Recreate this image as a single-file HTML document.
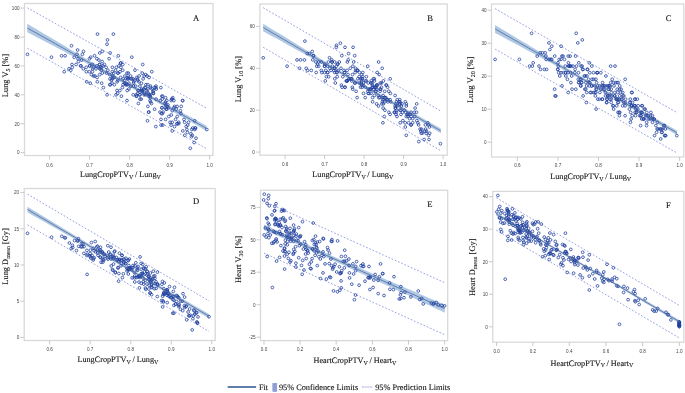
<!DOCTYPE html>
<html><head><meta charset="utf-8"><title>Figure</title>
<style>html,body{margin:0;padding:0;background:#fff}svg{display:block}.s text,text.s{text-rendering:geometricPrecision}</style></head>
<body>
<svg width="685" height="393" viewBox="0 0 685 393">
<rect width="685" height="393" fill="#fff"/>
<g>
<rect x="24.5" y="3.5" width="188.5" height="152" fill="#fff" stroke="#d8d8d8" stroke-width="1.25"/>
<polygon points="27.3,23.8 31.8,26.5 36.3,29.1 40.7,31.8 45.2,34.5 49.7,37.1 54.2,39.8 58.7,42.5 63.2,45.1 67.6,47.8 72.1,50.4 76.6,53.1 81.1,55.7 85.6,58.4 90.1,61 94.5,63.6 99,66.2 103.5,68.8 108,71.4 112.5,74 116.9,76.6 121.4,79.1 125.9,81.6 130.4,84.1 134.9,86.6 139.4,89.1 143.8,91.6 148.3,94.1 152.8,96.5 157.3,99 161.8,101.5 166.3,103.9 170.7,106.4 175.2,108.8 179.7,111.2 184.2,113.7 188.7,116.1 193.2,118.5 197.6,121 202.1,123.4 206.6,125.8 206.6,131 202.1,128.4 197.6,125.8 193.2,123.2 188.7,120.6 184.2,118 179.7,115.4 175.2,112.9 170.7,110.3 166.3,107.7 161.8,105.1 157.3,102.6 152.8,100 148.3,97.5 143.8,94.9 139.4,92.4 134.9,89.9 130.4,87.3 125.9,84.8 121.4,82.3 116.9,79.8 112.5,77.4 108,74.9 103.5,72.5 99,70.1 94.5,67.7 90.1,65.3 85.6,62.9 81.1,60.5 76.6,58.1 72.1,55.8 67.6,53.4 63.2,51 58.7,48.7 54.2,46.3 49.7,44 45.2,41.6 40.7,39.2 36.3,36.9 31.8,34.5 27.3,32.2" fill="#a6c2e3" fill-opacity="0.9"/>
<line x1="27.3" y1="7.8" x2="206.6" y2="108.2" stroke="#8a95dc" stroke-width="0.9" stroke-dasharray="1.7 1.8"/>
<line x1="27.3" y1="48.2" x2="206.6" y2="148.6" stroke="#8a95dc" stroke-width="0.9" stroke-dasharray="1.7 1.8"/>
<g fill="none" stroke="#1f3f9f" stroke-width="0.85" stroke-opacity="0.92"><circle cx="27.5" cy="54.3" r="1.38"/><circle cx="51.5" cy="57.2" r="1.38"/><circle cx="206.8" cy="129.5" r="1.38"/><circle cx="96" cy="68.8" r="1.38"/><circle cx="152.9" cy="91.9" r="1.38"/><circle cx="192.3" cy="135.3" r="1.38"/><circle cx="171.2" cy="115" r="1.38"/><circle cx="112.2" cy="78.9" r="1.38"/><circle cx="141.5" cy="83.2" r="1.38"/><circle cx="99.7" cy="74.6" r="1.38"/><circle cx="103.4" cy="87.6" r="1.38"/><circle cx="172.8" cy="97.7" r="1.38"/><circle cx="165.8" cy="104.9" r="1.38"/><circle cx="147.9" cy="106.4" r="1.38"/><circle cx="194.7" cy="120.8" r="1.38"/><circle cx="142.3" cy="91.9" r="1.38"/><circle cx="165.6" cy="97.7" r="1.38"/><circle cx="154.6" cy="109.2" r="1.38"/><circle cx="171.1" cy="125.1" r="1.38"/><circle cx="150.2" cy="96.2" r="1.38"/><circle cx="77.6" cy="50" r="1.38"/><circle cx="130.6" cy="76" r="1.38"/><circle cx="141.6" cy="89" r="1.38"/><circle cx="194.8" cy="129.5" r="1.38"/><circle cx="161" cy="119.4" r="1.38"/><circle cx="177.1" cy="106.4" r="1.38"/><circle cx="174.5" cy="126.6" r="1.38"/><circle cx="148" cy="89" r="1.38"/><circle cx="70.8" cy="70.2" r="1.38"/><circle cx="92.6" cy="68.8" r="1.38"/><circle cx="120" cy="71.7" r="1.38"/><circle cx="137.5" cy="78.9" r="1.38"/><circle cx="137.8" cy="93.4" r="1.38"/><circle cx="128.9" cy="83.2" r="1.38"/><circle cx="117.8" cy="80.3" r="1.38"/><circle cx="148.5" cy="93.4" r="1.38"/><circle cx="160.9" cy="87.6" r="1.38"/><circle cx="125.9" cy="83.2" r="1.38"/><circle cx="142.1" cy="90.5" r="1.38"/><circle cx="128.4" cy="73.1" r="1.38"/><circle cx="112.6" cy="76" r="1.38"/><circle cx="166.1" cy="109.2" r="1.38"/><circle cx="92.5" cy="64.5" r="1.38"/><circle cx="119.9" cy="90.5" r="1.38"/><circle cx="191.8" cy="129.5" r="1.38"/><circle cx="178.7" cy="123.7" r="1.38"/><circle cx="96.8" cy="65.9" r="1.38"/><circle cx="165.6" cy="119.4" r="1.38"/><circle cx="141.2" cy="99.1" r="1.38"/><circle cx="99.8" cy="52.9" r="1.38"/><circle cx="90.2" cy="83.2" r="1.38"/><circle cx="160.3" cy="100.6" r="1.38"/><circle cx="131.8" cy="57.2" r="1.38"/><circle cx="127" cy="73.1" r="1.38"/><circle cx="172.2" cy="122.3" r="1.38"/><circle cx="160" cy="112.1" r="1.38"/><circle cx="123" cy="84.7" r="1.38"/><circle cx="107.9" cy="70.2" r="1.38"/><circle cx="138.2" cy="90.5" r="1.38"/><circle cx="102.3" cy="51.4" r="1.38"/><circle cx="173.9" cy="100.6" r="1.38"/><circle cx="61.6" cy="55.8" r="1.38"/><circle cx="178.7" cy="122.3" r="1.38"/><circle cx="145.6" cy="94.8" r="1.38"/><circle cx="81.6" cy="60.1" r="1.38"/><circle cx="139.9" cy="94.8" r="1.38"/><circle cx="176.2" cy="109.2" r="1.38"/><circle cx="167.2" cy="106.4" r="1.38"/><circle cx="116" cy="94.8" r="1.38"/><circle cx="89.8" cy="65.9" r="1.38"/><circle cx="106.5" cy="73.1" r="1.38"/><circle cx="121.4" cy="96.2" r="1.38"/><circle cx="133.6" cy="86.1" r="1.38"/><circle cx="122.4" cy="87.6" r="1.38"/><circle cx="164.9" cy="103.5" r="1.38"/><circle cx="186.2" cy="126.6" r="1.38"/><circle cx="101.3" cy="70.2" r="1.38"/><circle cx="127.2" cy="90.5" r="1.38"/><circle cx="190.3" cy="148.3" r="1.38"/><circle cx="149" cy="77.5" r="1.38"/><circle cx="171.6" cy="99.1" r="1.38"/><circle cx="195.2" cy="128" r="1.38"/><circle cx="140" cy="99.1" r="1.38"/><circle cx="161.8" cy="107.8" r="1.38"/><circle cx="109.6" cy="74.6" r="1.38"/><circle cx="171.2" cy="100.6" r="1.38"/><circle cx="163.1" cy="112.1" r="1.38"/><circle cx="133.8" cy="81.8" r="1.38"/><circle cx="107.1" cy="94.8" r="1.38"/><circle cx="113.4" cy="34.1" r="1.38"/><circle cx="69" cy="68.8" r="1.38"/><circle cx="172.2" cy="110.7" r="1.38"/><circle cx="133.5" cy="83.2" r="1.38"/><circle cx="156.1" cy="99.1" r="1.38"/><circle cx="154.5" cy="87.6" r="1.38"/><circle cx="124.6" cy="83.2" r="1.38"/><circle cx="167.9" cy="104.9" r="1.38"/><circle cx="150.3" cy="97.7" r="1.38"/><circle cx="136.8" cy="77.5" r="1.38"/><circle cx="78" cy="58.7" r="1.38"/><circle cx="196" cy="138.2" r="1.38"/><circle cx="117.1" cy="81.8" r="1.38"/><circle cx="151.5" cy="103.5" r="1.38"/><circle cx="76.1" cy="64.5" r="1.38"/><circle cx="91.4" cy="74.6" r="1.38"/><circle cx="93.4" cy="67.3" r="1.38"/><circle cx="127.6" cy="84.7" r="1.38"/><circle cx="127" cy="100.6" r="1.38"/><circle cx="99.5" cy="64.5" r="1.38"/><circle cx="115.5" cy="70.2" r="1.38"/><circle cx="142.1" cy="90.5" r="1.38"/><circle cx="149.2" cy="94.8" r="1.38"/><circle cx="165.5" cy="102" r="1.38"/><circle cx="150.6" cy="102" r="1.38"/><circle cx="103.1" cy="65.9" r="1.38"/><circle cx="190.9" cy="133.8" r="1.38"/><circle cx="175.6" cy="119.4" r="1.38"/><circle cx="133.1" cy="78.9" r="1.38"/><circle cx="191.5" cy="136.7" r="1.38"/><circle cx="124.6" cy="80.3" r="1.38"/><circle cx="148.8" cy="112.1" r="1.38"/><circle cx="186.9" cy="129.5" r="1.38"/><circle cx="111.5" cy="80.3" r="1.38"/><circle cx="92.5" cy="71.7" r="1.38"/><circle cx="98.9" cy="60.1" r="1.38"/><circle cx="139.1" cy="76" r="1.38"/><circle cx="141" cy="90.5" r="1.38"/><circle cx="166.7" cy="109.2" r="1.38"/><circle cx="99.8" cy="68.8" r="1.38"/><circle cx="89.6" cy="65.9" r="1.38"/><circle cx="118.3" cy="55.8" r="1.38"/><circle cx="72" cy="64.5" r="1.38"/><circle cx="151.8" cy="71.7" r="1.38"/><circle cx="162.1" cy="107.8" r="1.38"/><circle cx="168.3" cy="107.8" r="1.38"/><circle cx="122.8" cy="64.5" r="1.38"/><circle cx="182.8" cy="130.9" r="1.38"/><circle cx="168.8" cy="116.5" r="1.38"/><circle cx="146.4" cy="90.5" r="1.38"/><circle cx="145.7" cy="74.6" r="1.38"/><circle cx="96.9" cy="58.7" r="1.38"/><circle cx="147.8" cy="84.7" r="1.38"/><circle cx="82.4" cy="54.3" r="1.38"/><circle cx="133.2" cy="94.8" r="1.38"/><circle cx="162.2" cy="99.1" r="1.38"/><circle cx="136.5" cy="96.2" r="1.38"/><circle cx="138.9" cy="81.8" r="1.38"/><circle cx="81" cy="65.9" r="1.38"/><circle cx="83.3" cy="68.8" r="1.38"/><circle cx="127.7" cy="78.9" r="1.38"/><circle cx="150" cy="94.8" r="1.38"/><circle cx="128.9" cy="89" r="1.38"/><circle cx="97.1" cy="77.5" r="1.38"/><circle cx="177.2" cy="116.5" r="1.38"/><circle cx="180.4" cy="110.7" r="1.38"/><circle cx="180.9" cy="113.6" r="1.38"/><circle cx="116.4" cy="67.3" r="1.38"/><circle cx="150" cy="100.6" r="1.38"/><circle cx="102.3" cy="73.1" r="1.38"/><circle cx="148.6" cy="112.1" r="1.38"/><circle cx="107" cy="44.2" r="1.38"/><circle cx="135.7" cy="86.1" r="1.38"/><circle cx="101.6" cy="83.2" r="1.38"/><circle cx="135" cy="70.2" r="1.38"/><circle cx="139.8" cy="94.8" r="1.38"/><circle cx="120.9" cy="63" r="1.38"/><circle cx="142.7" cy="64.5" r="1.38"/><circle cx="136.4" cy="96.2" r="1.38"/><circle cx="155.8" cy="126.6" r="1.38"/><circle cx="162.8" cy="125.1" r="1.38"/><circle cx="144.8" cy="87.6" r="1.38"/><circle cx="74.2" cy="57.2" r="1.38"/><circle cx="127.1" cy="77.5" r="1.38"/><circle cx="148.6" cy="96.2" r="1.38"/><circle cx="139.9" cy="86.1" r="1.38"/><circle cx="109.1" cy="58.7" r="1.38"/><circle cx="138.1" cy="90.5" r="1.38"/><circle cx="138.4" cy="103.5" r="1.38"/><circle cx="172.3" cy="99.1" r="1.38"/><circle cx="124.9" cy="76" r="1.38"/><circle cx="152.1" cy="89" r="1.38"/><circle cx="153.5" cy="90.5" r="1.38"/><circle cx="155.9" cy="86.1" r="1.38"/><circle cx="72.3" cy="67.3" r="1.38"/><circle cx="184.6" cy="122.3" r="1.38"/><circle cx="120.6" cy="77.5" r="1.38"/><circle cx="172.2" cy="130.9" r="1.38"/><circle cx="117" cy="90.5" r="1.38"/><circle cx="184" cy="119.4" r="1.38"/><circle cx="97.3" cy="81.8" r="1.38"/><circle cx="161.1" cy="125.1" r="1.38"/><circle cx="83.5" cy="51.4" r="1.38"/><circle cx="194.1" cy="142.5" r="1.38"/><circle cx="102.1" cy="61.6" r="1.38"/><circle cx="181.2" cy="106.4" r="1.38"/><circle cx="86.2" cy="67.3" r="1.38"/><circle cx="94.5" cy="55.8" r="1.38"/><circle cx="153.4" cy="93.4" r="1.38"/><circle cx="147.1" cy="91.9" r="1.38"/><circle cx="90.7" cy="57.2" r="1.38"/><circle cx="136.2" cy="94.8" r="1.38"/><circle cx="125.8" cy="84.7" r="1.38"/><circle cx="155.8" cy="87.6" r="1.38"/><circle cx="64.2" cy="71.7" r="1.38"/><circle cx="182.7" cy="100.6" r="1.38"/><circle cx="153.3" cy="93.4" r="1.38"/><circle cx="130.8" cy="78.9" r="1.38"/><circle cx="131.8" cy="78.9" r="1.38"/><circle cx="80.6" cy="65.9" r="1.38"/><circle cx="120.5" cy="63" r="1.38"/><circle cx="162.7" cy="96.2" r="1.38"/><circle cx="117.9" cy="73.1" r="1.38"/><circle cx="161.4" cy="113.6" r="1.38"/><circle cx="128.1" cy="77.5" r="1.38"/><circle cx="93.5" cy="76" r="1.38"/><circle cx="110.3" cy="84.7" r="1.38"/><circle cx="182.6" cy="100.6" r="1.38"/><circle cx="170.1" cy="122.3" r="1.38"/><circle cx="86.7" cy="81.8" r="1.38"/><circle cx="110" cy="78.9" r="1.38"/><circle cx="112" cy="83.2" r="1.38"/><circle cx="150.4" cy="87.6" r="1.38"/><circle cx="120.9" cy="67.3" r="1.38"/><circle cx="166.8" cy="100.6" r="1.38"/><circle cx="99.7" cy="64.5" r="1.38"/><circle cx="114.3" cy="77.5" r="1.38"/><circle cx="122.7" cy="70.2" r="1.38"/><circle cx="118.1" cy="73.1" r="1.38"/><circle cx="118.9" cy="65.9" r="1.38"/><circle cx="156.3" cy="89" r="1.38"/><circle cx="128.2" cy="78.9" r="1.38"/><circle cx="65.1" cy="55.8" r="1.38"/><circle cx="94.9" cy="76" r="1.38"/><circle cx="187.4" cy="132.4" r="1.38"/><circle cx="89.3" cy="71.7" r="1.38"/><circle cx="134.6" cy="80.3" r="1.38"/><circle cx="145.4" cy="87.6" r="1.38"/><circle cx="161.8" cy="96.2" r="1.38"/><circle cx="174.6" cy="106.4" r="1.38"/><circle cx="162.3" cy="113.6" r="1.38"/><circle cx="142.2" cy="73.1" r="1.38"/><circle cx="144.4" cy="93.4" r="1.38"/><circle cx="89.5" cy="58.7" r="1.38"/><circle cx="165.5" cy="107.8" r="1.38"/><circle cx="195.6" cy="128" r="1.38"/><circle cx="101.5" cy="67.3" r="1.38"/><circle cx="187.7" cy="125.1" r="1.38"/><circle cx="150.5" cy="86.1" r="1.38"/><circle cx="177.2" cy="123.7" r="1.38"/><circle cx="106.1" cy="67.3" r="1.38"/><circle cx="145.9" cy="84.7" r="1.38"/><circle cx="192.7" cy="128" r="1.38"/><circle cx="110.1" cy="52.9" r="1.38"/><circle cx="78.4" cy="61.6" r="1.38"/><circle cx="126.4" cy="84.7" r="1.38"/><circle cx="130.9" cy="86.1" r="1.38"/><circle cx="144.2" cy="76" r="1.38"/><circle cx="77" cy="54.3" r="1.38"/><circle cx="177" cy="123.7" r="1.38"/><circle cx="113.2" cy="77.5" r="1.38"/><circle cx="137.8" cy="80.3" r="1.38"/><circle cx="147.5" cy="120.8" r="1.38"/><circle cx="117.6" cy="93.4" r="1.38"/><circle cx="144.1" cy="94.8" r="1.38"/><circle cx="109.8" cy="84.7" r="1.38"/><circle cx="173.9" cy="107.8" r="1.38"/><circle cx="143.9" cy="89" r="1.38"/><circle cx="147.1" cy="76" r="1.38"/><circle cx="113.8" cy="73.1" r="1.38"/><circle cx="112.4" cy="67.3" r="1.38"/><circle cx="112.3" cy="71.7" r="1.38"/><circle cx="123.2" cy="78.9" r="1.38"/><circle cx="188.5" cy="122.3" r="1.38"/><circle cx="184.8" cy="135.3" r="1.38"/><circle cx="143.1" cy="78.9" r="1.38"/><circle cx="86.3" cy="71.7" r="1.38"/><circle cx="104.4" cy="64.5" r="1.38"/><circle cx="100.4" cy="67.3" r="1.38"/><circle cx="114.3" cy="84.7" r="1.38"/><circle cx="97.5" cy="34.1" r="1.38"/><circle cx="107.5" cy="39.9" r="1.38"/><circle cx="71.5" cy="45.7" r="1.38"/></g>
<line x1="27.3" y1="28" x2="206.6" y2="128.4" stroke="#526a93" stroke-width="1.0" stroke-opacity="0.8"/>
<g stroke="#c0c0c0" stroke-width="0.85"><line x1="49.5" y1="155.5" x2="49.5" y2="159.4"/><line x1="89.5" y1="155.5" x2="89.5" y2="159.4"/><line x1="129.6" y1="155.5" x2="129.6" y2="159.4"/><line x1="169.6" y1="155.5" x2="169.6" y2="159.4"/><line x1="209.6" y1="155.5" x2="209.6" y2="159.4"/><line x1="20.6" y1="152.6" x2="24.5" y2="152.6"/><line x1="20.6" y1="123.7" x2="24.5" y2="123.7"/><line x1="20.6" y1="94.8" x2="24.5" y2="94.8"/><line x1="20.6" y1="65.9" x2="24.5" y2="65.9"/><line x1="20.6" y1="37.1" x2="24.5" y2="37.1"/><line x1="20.6" y1="8.1" x2="24.5" y2="8.1"/></g>
<g font-family="Liberation Sans, sans-serif" font-size="4.6" fill="#444"><text x="49.5" y="166.6" text-anchor="middle">0.6</text><text x="89.5" y="166.6" text-anchor="middle">0.7</text><text x="129.6" y="166.6" text-anchor="middle">0.8</text><text x="169.6" y="166.6" text-anchor="middle">0.9</text><text x="209.6" y="166.6" text-anchor="middle">1.0</text><text x="19.5" y="154.4" text-anchor="end">0</text><text x="19.5" y="125.5" text-anchor="end">20</text><text x="19.5" y="96.6" text-anchor="end">40</text><text x="19.5" y="67.7" text-anchor="end">60</text><text x="19.5" y="38.9" text-anchor="end">80</text><text x="19.5" y="9.9" text-anchor="end">100</text></g>
<text class="s" x="196" y="21.2" text-anchor="middle" font-family="Liberation Serif, serif" font-size="8.6" fill="#111" stroke="#111" stroke-width="0.1">A</text>
<text class="s" transform="translate(8.3,75.5) rotate(-90)" text-anchor="middle" font-family="Liberation Serif, serif" font-size="8.4" fill="#111" stroke="#111" stroke-width="0.1">Lung V<tspan font-size="5.9" dy="1.7">5</tspan><tspan dy="-1.7"> [%]</tspan></text>
<text class="s" x="120.4" y="177.4" text-anchor="middle" font-family="Liberation Serif, serif" font-size="8.2" fill="#111" stroke="#111" stroke-width="0.1">LungCropPTV<tspan font-size="6" dy="1.7">V</tspan><tspan dy="-1.7" dx="-0.5"> / Lung</tspan><tspan font-size="6" dy="1.7">V</tspan></text>
</g>
<g>
<rect x="259.9" y="4" width="187.3" height="151.2" fill="#fff" stroke="#d8d8d8" stroke-width="1.25"/>
<polygon points="263.2,23.7 267.6,26.4 272.1,29.2 276.5,31.9 281,34.6 285.4,37.3 289.8,40.1 294.3,42.8 298.7,45.5 303.2,48.2 307.6,50.9 312,53.6 316.5,56.3 320.9,59 325.4,61.7 329.8,64.4 334.2,67.1 338.7,69.7 343.1,72.4 347.6,75 352,77.7 356.4,80.3 360.9,82.9 365.3,85.5 369.8,88 374.2,90.6 378.6,93.2 383.1,95.7 387.5,98.3 392,100.8 396.4,103.3 400.8,105.9 405.3,108.4 409.7,110.9 414.2,113.4 418.6,116 423,118.5 427.5,121 431.9,123.5 436.4,126 440.8,128.5 440.8,133.3 436.4,130.6 431.9,128 427.5,125.3 423,122.7 418.6,120 414.2,117.3 409.7,114.7 405.3,112 400.8,109.4 396.4,106.8 392,104.1 387.5,101.5 383.1,98.9 378.6,96.3 374.2,93.7 369.8,91.1 365.3,88.5 360.9,85.9 356.4,83.3 352,80.7 347.6,78.2 343.1,75.7 338.7,73.1 334.2,70.6 329.8,68.1 325.4,65.7 320.9,63.2 316.5,60.7 312,58.2 307.6,55.8 303.2,53.3 298.7,50.9 294.3,48.4 289.8,46 285.4,43.5 281,41.1 276.5,38.6 272.1,36.2 267.6,33.7 263.2,31.3" fill="#a6c2e3" fill-opacity="0.9"/>
<line x1="263.2" y1="7.7" x2="440.8" y2="111.1" stroke="#8a95dc" stroke-width="0.9" stroke-dasharray="1.7 1.8"/>
<line x1="263.2" y1="47.3" x2="440.8" y2="150.7" stroke="#8a95dc" stroke-width="0.9" stroke-dasharray="1.7 1.8"/>
<g fill="none" stroke="#1f3f9f" stroke-width="0.85" stroke-opacity="0.92"><circle cx="263.2" cy="57.8" r="1.38"/><circle cx="287.1" cy="66.2" r="1.38"/><circle cx="440.4" cy="143.7" r="1.38"/><circle cx="331" cy="70.4" r="1.38"/><circle cx="387.2" cy="99.7" r="1.38"/><circle cx="426.1" cy="133.2" r="1.38"/><circle cx="405.3" cy="127" r="1.38"/><circle cx="347" cy="80.9" r="1.38"/><circle cx="375.9" cy="87.2" r="1.38"/><circle cx="334.7" cy="72.5" r="1.38"/><circle cx="338.3" cy="70.4" r="1.38"/><circle cx="406.9" cy="114.4" r="1.38"/><circle cx="400" cy="101.8" r="1.38"/><circle cx="382.2" cy="97.6" r="1.38"/><circle cx="428.5" cy="124.9" r="1.38"/><circle cx="376.7" cy="85.1" r="1.38"/><circle cx="399.8" cy="103.9" r="1.38"/><circle cx="388.9" cy="112.3" r="1.38"/><circle cx="405.2" cy="122.8" r="1.38"/><circle cx="384.5" cy="101.8" r="1.38"/><circle cx="312.8" cy="59.9" r="1.38"/><circle cx="365.2" cy="97.6" r="1.38"/><circle cx="376.1" cy="91.3" r="1.38"/><circle cx="428.6" cy="135.3" r="1.38"/><circle cx="395.2" cy="106" r="1.38"/><circle cx="411.1" cy="112.3" r="1.38"/><circle cx="408.6" cy="122.8" r="1.38"/><circle cx="382.4" cy="101.8" r="1.38"/><circle cx="306.2" cy="68.3" r="1.38"/><circle cx="327.7" cy="72.5" r="1.38"/><circle cx="354.7" cy="55.7" r="1.38"/><circle cx="372" cy="83" r="1.38"/><circle cx="372.3" cy="87.2" r="1.38"/><circle cx="363.5" cy="83" r="1.38"/><circle cx="352.5" cy="74.6" r="1.38"/><circle cx="382.9" cy="99.7" r="1.38"/><circle cx="395.1" cy="95.5" r="1.38"/><circle cx="360.5" cy="87.2" r="1.38"/><circle cx="376.6" cy="103.9" r="1.38"/><circle cx="363.1" cy="85.1" r="1.38"/><circle cx="347.4" cy="62" r="1.38"/><circle cx="400.2" cy="122.8" r="1.38"/><circle cx="327.6" cy="72.5" r="1.38"/><circle cx="354.6" cy="83" r="1.38"/><circle cx="425.6" cy="129.1" r="1.38"/><circle cx="412.7" cy="118.6" r="1.38"/><circle cx="331.8" cy="59.9" r="1.38"/><circle cx="399.8" cy="110.2" r="1.38"/><circle cx="375.6" cy="91.3" r="1.38"/><circle cx="334.8" cy="68.3" r="1.38"/><circle cx="325.3" cy="80.9" r="1.38"/><circle cx="394.6" cy="112.3" r="1.38"/><circle cx="366.4" cy="76.7" r="1.38"/><circle cx="361.7" cy="80.9" r="1.38"/><circle cx="406.3" cy="116.5" r="1.38"/><circle cx="394.3" cy="112.3" r="1.38"/><circle cx="357.7" cy="70.4" r="1.38"/><circle cx="342.8" cy="76.7" r="1.38"/><circle cx="372.6" cy="97.6" r="1.38"/><circle cx="337.3" cy="64.1" r="1.38"/><circle cx="407.9" cy="114.4" r="1.38"/><circle cx="297" cy="59.9" r="1.38"/><circle cx="412.7" cy="122.8" r="1.38"/><circle cx="380" cy="89.2" r="1.38"/><circle cx="316.8" cy="66.2" r="1.38"/><circle cx="374.3" cy="87.2" r="1.38"/><circle cx="410.2" cy="114.4" r="1.38"/><circle cx="401.4" cy="106" r="1.38"/><circle cx="350.8" cy="78.8" r="1.38"/><circle cx="324.9" cy="64.1" r="1.38"/><circle cx="341.4" cy="85.1" r="1.38"/><circle cx="356.1" cy="91.3" r="1.38"/><circle cx="368.2" cy="83" r="1.38"/><circle cx="357.1" cy="97.6" r="1.38"/><circle cx="399.1" cy="101.8" r="1.38"/><circle cx="420.1" cy="129.1" r="1.38"/><circle cx="336.3" cy="47.3" r="1.38"/><circle cx="361.9" cy="78.8" r="1.38"/><circle cx="424.1" cy="139.5" r="1.38"/><circle cx="383.4" cy="80.9" r="1.38"/><circle cx="405.7" cy="112.3" r="1.38"/><circle cx="429" cy="139.5" r="1.38"/><circle cx="374.4" cy="95.5" r="1.38"/><circle cx="396" cy="114.4" r="1.38"/><circle cx="344.5" cy="72.5" r="1.38"/><circle cx="405.3" cy="101.8" r="1.38"/><circle cx="397.3" cy="99.7" r="1.38"/><circle cx="368.4" cy="89.2" r="1.38"/><circle cx="342" cy="87.2" r="1.38"/><circle cx="348.2" cy="59.9" r="1.38"/><circle cx="304.4" cy="59.9" r="1.38"/><circle cx="406.3" cy="103.9" r="1.38"/><circle cx="368.1" cy="93.4" r="1.38"/><circle cx="390.4" cy="93.4" r="1.38"/><circle cx="388.8" cy="91.3" r="1.38"/><circle cx="359.3" cy="83" r="1.38"/><circle cx="402" cy="103.9" r="1.38"/><circle cx="384.7" cy="91.3" r="1.38"/><circle cx="371.3" cy="80.9" r="1.38"/><circle cx="313.2" cy="55.7" r="1.38"/><circle cx="429.7" cy="133.2" r="1.38"/><circle cx="351.8" cy="78.8" r="1.38"/><circle cx="385.8" cy="97.6" r="1.38"/><circle cx="311.3" cy="70.4" r="1.38"/><circle cx="326.4" cy="76.7" r="1.38"/><circle cx="328.4" cy="62" r="1.38"/><circle cx="362.3" cy="87.2" r="1.38"/><circle cx="361.6" cy="85.1" r="1.38"/><circle cx="334.4" cy="68.3" r="1.38"/><circle cx="350.3" cy="68.3" r="1.38"/><circle cx="376.6" cy="89.2" r="1.38"/><circle cx="383.5" cy="103.9" r="1.38"/><circle cx="399.7" cy="99.7" r="1.38"/><circle cx="384.9" cy="110.2" r="1.38"/><circle cx="338" cy="64.1" r="1.38"/><circle cx="424.8" cy="131.1" r="1.38"/><circle cx="409.6" cy="118.6" r="1.38"/><circle cx="367.7" cy="66.2" r="1.38"/><circle cx="425.4" cy="124.9" r="1.38"/><circle cx="359.2" cy="76.7" r="1.38"/><circle cx="383.1" cy="108.1" r="1.38"/><circle cx="420.8" cy="131.1" r="1.38"/><circle cx="346.3" cy="80.9" r="1.38"/><circle cx="327.6" cy="66.2" r="1.38"/><circle cx="333.8" cy="70.4" r="1.38"/><circle cx="373.6" cy="89.2" r="1.38"/><circle cx="375.5" cy="87.2" r="1.38"/><circle cx="400.8" cy="110.2" r="1.38"/><circle cx="334.8" cy="78.8" r="1.38"/><circle cx="324.7" cy="66.2" r="1.38"/><circle cx="353.1" cy="47.3" r="1.38"/><circle cx="307.3" cy="53.6" r="1.38"/><circle cx="386.1" cy="85.1" r="1.38"/><circle cx="396.3" cy="112.3" r="1.38"/><circle cx="402.5" cy="112.3" r="1.38"/><circle cx="357.5" cy="70.4" r="1.38"/><circle cx="416.8" cy="120.7" r="1.38"/><circle cx="402.9" cy="120.7" r="1.38"/><circle cx="380.8" cy="89.2" r="1.38"/><circle cx="380.1" cy="91.3" r="1.38"/><circle cx="331.9" cy="62" r="1.38"/><circle cx="382.2" cy="68.3" r="1.38"/><circle cx="317.6" cy="64.1" r="1.38"/><circle cx="367.8" cy="91.3" r="1.38"/><circle cx="396.4" cy="101.8" r="1.38"/><circle cx="371" cy="93.4" r="1.38"/><circle cx="373.4" cy="78.8" r="1.38"/><circle cx="316.2" cy="72.5" r="1.38"/><circle cx="318.5" cy="62" r="1.38"/><circle cx="362.4" cy="78.8" r="1.38"/><circle cx="384.3" cy="99.7" r="1.38"/><circle cx="363.5" cy="93.4" r="1.38"/><circle cx="332.1" cy="62" r="1.38"/><circle cx="411.2" cy="116.5" r="1.38"/><circle cx="414.3" cy="112.3" r="1.38"/><circle cx="414.8" cy="116.5" r="1.38"/><circle cx="351.2" cy="78.8" r="1.38"/><circle cx="384.3" cy="116.5" r="1.38"/><circle cx="337.2" cy="76.7" r="1.38"/><circle cx="383" cy="95.5" r="1.38"/><circle cx="341.8" cy="55.7" r="1.38"/><circle cx="370.2" cy="89.2" r="1.38"/><circle cx="336.6" cy="72.5" r="1.38"/><circle cx="369.5" cy="89.2" r="1.38"/><circle cx="374.3" cy="78.8" r="1.38"/><circle cx="355.6" cy="70.4" r="1.38"/><circle cx="377.2" cy="72.5" r="1.38"/><circle cx="370.9" cy="83" r="1.38"/><circle cx="390.1" cy="114.4" r="1.38"/><circle cx="397" cy="116.5" r="1.38"/><circle cx="379.2" cy="74.6" r="1.38"/><circle cx="309.5" cy="53.6" r="1.38"/><circle cx="361.7" cy="74.6" r="1.38"/><circle cx="382.9" cy="122.8" r="1.38"/><circle cx="374.4" cy="80.9" r="1.38"/><circle cx="344" cy="70.4" r="1.38"/><circle cx="372.6" cy="101.8" r="1.38"/><circle cx="372.9" cy="87.2" r="1.38"/><circle cx="406.3" cy="106" r="1.38"/><circle cx="359.5" cy="72.5" r="1.38"/><circle cx="386.5" cy="85.1" r="1.38"/><circle cx="387.8" cy="101.8" r="1.38"/><circle cx="390.2" cy="78.8" r="1.38"/><circle cx="307.6" cy="70.4" r="1.38"/><circle cx="418.6" cy="124.9" r="1.38"/><circle cx="355.3" cy="83" r="1.38"/><circle cx="406.3" cy="135.3" r="1.38"/><circle cx="351.7" cy="80.9" r="1.38"/><circle cx="417.9" cy="122.8" r="1.38"/><circle cx="332.3" cy="66.2" r="1.38"/><circle cx="395.3" cy="108.1" r="1.38"/><circle cx="318.7" cy="66.2" r="1.38"/><circle cx="427.8" cy="122.8" r="1.38"/><circle cx="337.1" cy="72.5" r="1.38"/><circle cx="415.1" cy="108.1" r="1.38"/><circle cx="321.3" cy="70.4" r="1.38"/><circle cx="329.5" cy="57.8" r="1.38"/><circle cx="387.7" cy="99.7" r="1.38"/><circle cx="381.5" cy="87.2" r="1.38"/><circle cx="325.8" cy="70.4" r="1.38"/><circle cx="370.7" cy="89.2" r="1.38"/><circle cx="360.4" cy="78.8" r="1.38"/><circle cx="390.1" cy="99.7" r="1.38"/><circle cx="299.6" cy="68.3" r="1.38"/><circle cx="416.7" cy="103.9" r="1.38"/><circle cx="387.6" cy="87.2" r="1.38"/><circle cx="365.4" cy="80.9" r="1.38"/><circle cx="366.4" cy="80.9" r="1.38"/><circle cx="315.9" cy="62" r="1.38"/><circle cx="355.2" cy="72.5" r="1.38"/><circle cx="396.9" cy="106" r="1.38"/><circle cx="352.7" cy="89.2" r="1.38"/><circle cx="395.6" cy="108.1" r="1.38"/><circle cx="362.7" cy="76.7" r="1.38"/><circle cx="328.6" cy="76.7" r="1.38"/><circle cx="345.1" cy="87.2" r="1.38"/><circle cx="416.5" cy="112.3" r="1.38"/><circle cx="404.2" cy="110.2" r="1.38"/><circle cx="321.8" cy="72.5" r="1.38"/><circle cx="344.9" cy="87.2" r="1.38"/><circle cx="346.8" cy="80.9" r="1.38"/><circle cx="384.7" cy="97.6" r="1.38"/><circle cx="355.6" cy="68.3" r="1.38"/><circle cx="401" cy="114.4" r="1.38"/><circle cx="334.7" cy="62" r="1.38"/><circle cx="349.1" cy="78.8" r="1.38"/><circle cx="357.4" cy="70.4" r="1.38"/><circle cx="352.9" cy="66.2" r="1.38"/><circle cx="353.6" cy="62" r="1.38"/><circle cx="390.6" cy="101.8" r="1.38"/><circle cx="362.8" cy="72.5" r="1.38"/><circle cx="300.5" cy="59.9" r="1.38"/><circle cx="329.9" cy="68.3" r="1.38"/><circle cx="421.3" cy="133.2" r="1.38"/><circle cx="324.5" cy="66.2" r="1.38"/><circle cx="369.1" cy="93.4" r="1.38"/><circle cx="379.8" cy="97.6" r="1.38"/><circle cx="396" cy="103.9" r="1.38"/><circle cx="408.7" cy="114.4" r="1.38"/><circle cx="396.5" cy="110.2" r="1.38"/><circle cx="376.6" cy="85.1" r="1.38"/><circle cx="378.8" cy="97.6" r="1.38"/><circle cx="324.6" cy="72.5" r="1.38"/><circle cx="399.7" cy="103.9" r="1.38"/><circle cx="429.4" cy="127" r="1.38"/><circle cx="336.4" cy="66.2" r="1.38"/><circle cx="421.6" cy="129.1" r="1.38"/><circle cx="384.8" cy="97.6" r="1.38"/><circle cx="411.2" cy="124.9" r="1.38"/><circle cx="341" cy="68.3" r="1.38"/><circle cx="380.3" cy="83" r="1.38"/><circle cx="426.5" cy="131.1" r="1.38"/><circle cx="345" cy="47.3" r="1.38"/><circle cx="313.6" cy="55.7" r="1.38"/><circle cx="361.1" cy="83" r="1.38"/><circle cx="365.5" cy="87.2" r="1.38"/><circle cx="378.6" cy="62" r="1.38"/><circle cx="312.2" cy="51.5" r="1.38"/><circle cx="411" cy="124.9" r="1.38"/><circle cx="348" cy="74.6" r="1.38"/><circle cx="372.3" cy="85.1" r="1.38"/><circle cx="381.9" cy="103.9" r="1.38"/><circle cx="352.3" cy="87.2" r="1.38"/><circle cx="378.5" cy="106" r="1.38"/><circle cx="344.7" cy="72.5" r="1.38"/><circle cx="407.9" cy="116.5" r="1.38"/><circle cx="378.3" cy="95.5" r="1.38"/><circle cx="381.5" cy="83" r="1.38"/><circle cx="348.6" cy="53.6" r="1.38"/><circle cx="347.3" cy="80.9" r="1.38"/><circle cx="347.1" cy="70.4" r="1.38"/><circle cx="357.9" cy="78.8" r="1.38"/><circle cx="422.3" cy="133.2" r="1.38"/><circle cx="418.8" cy="141.6" r="1.38"/><circle cx="377.5" cy="85.1" r="1.38"/><circle cx="321.4" cy="62" r="1.38"/><circle cx="339.3" cy="62" r="1.38"/><circle cx="335.3" cy="83" r="1.38"/><circle cx="349.1" cy="78.8" r="1.38"/><circle cx="340.4" cy="43.2" r="1.38"/><circle cx="336.5" cy="45.3" r="1.38"/><circle cx="304.9" cy="41.1" r="1.38"/></g>
<line x1="263.2" y1="27.5" x2="440.8" y2="130.9" stroke="#526a93" stroke-width="1.0" stroke-opacity="0.8"/>
<g stroke="#c0c0c0" stroke-width="0.85"><line x1="285.1" y1="155.2" x2="285.1" y2="159.1"/><line x1="324.6" y1="155.2" x2="324.6" y2="159.1"/><line x1="364.1" y1="155.2" x2="364.1" y2="159.1"/><line x1="403.6" y1="155.2" x2="403.6" y2="159.1"/><line x1="443.2" y1="155.2" x2="443.2" y2="159.1"/><line x1="256" y1="152.1" x2="259.9" y2="152.1"/><line x1="256" y1="110.2" x2="259.9" y2="110.2"/><line x1="256" y1="68.3" x2="259.9" y2="68.3"/><line x1="256" y1="26.4" x2="259.9" y2="26.4"/></g>
<g font-family="Liberation Sans, sans-serif" font-size="4.6" fill="#444"><text x="285.1" y="165.8" text-anchor="middle">0.6</text><text x="324.6" y="165.8" text-anchor="middle">0.7</text><text x="364.1" y="165.8" text-anchor="middle">0.8</text><text x="403.6" y="165.8" text-anchor="middle">0.9</text><text x="443.2" y="165.8" text-anchor="middle">1.0</text><text x="254.9" y="153.9" text-anchor="end">0</text><text x="254.9" y="112" text-anchor="end">20</text><text x="254.9" y="70.1" text-anchor="end">40</text><text x="254.9" y="28.2" text-anchor="end">60</text></g>
<text class="s" x="430.2" y="21.2" text-anchor="middle" font-family="Liberation Serif, serif" font-size="8.6" fill="#111" stroke="#111" stroke-width="0.1">B</text>
<text class="s" transform="translate(241.2,79.2) rotate(-90)" text-anchor="middle" font-family="Liberation Serif, serif" font-size="8.4" fill="#111" stroke="#111" stroke-width="0.1">Lung V<tspan font-size="5.9" dy="1.7">10</tspan><tspan dy="-1.7"> [%]</tspan></text>
<text class="s" x="352.8" y="177.4" text-anchor="middle" font-family="Liberation Serif, serif" font-size="8.2" fill="#111" stroke="#111" stroke-width="0.1">LungCropPTV<tspan font-size="6" dy="1.7">V</tspan><tspan dy="-1.7" dx="-0.5"> / Lung</tspan><tspan font-size="6" dy="1.7">V</tspan></text>
</g>
<g>
<rect x="491.5" y="4" width="192.3" height="153" fill="#fff" stroke="#d8d8d8" stroke-width="1.25"/>
<polygon points="495.1,24.9 499.6,27.7 504.2,30.4 508.7,33.2 513.3,35.9 517.8,38.7 522.4,41.4 526.9,44.1 531.5,46.9 536,49.6 540.6,52.4 545.1,55.1 549.7,57.8 554.2,60.5 558.8,63.2 563.3,66 567.9,68.7 572.4,71.3 577,74 581.5,76.7 586,79.3 590.6,81.9 595.1,84.5 599.7,87.1 604.2,89.7 608.8,92.3 613.3,94.9 617.9,97.4 622.4,100 627,102.6 631.5,105.1 636.1,107.7 640.6,110.2 645.2,112.7 649.7,115.3 654.3,117.8 658.8,120.3 663.4,122.8 667.9,125.4 672.5,127.9 677,130.4 677,135.2 672.5,132.5 667.9,129.8 663.4,127.2 658.8,124.5 654.3,121.8 649.7,119.2 645.2,116.5 640.6,113.8 636.1,111.2 631.5,108.5 627,105.9 622.4,103.3 617.9,100.6 613.3,98 608.8,95.4 604.2,92.8 599.7,90.1 595.1,87.5 590.6,85 586,82.4 581.5,79.8 577,77.3 572.4,74.8 567.9,72.3 563.3,69.8 558.8,67.3 554.2,64.8 549.7,62.3 545.1,59.9 540.6,57.4 536,54.9 531.5,52.5 526.9,50 522.4,47.6 517.8,45.1 513.3,42.7 508.7,40.2 504.2,37.8 499.6,35.3 495.1,32.9" fill="#a6c2e3" fill-opacity="0.9"/>
<line x1="495.1" y1="8.7" x2="677" y2="112.6" stroke="#8a95dc" stroke-width="0.9" stroke-dasharray="1.7 1.8"/>
<line x1="495.1" y1="49.1" x2="677" y2="153" stroke="#8a95dc" stroke-width="0.9" stroke-dasharray="1.7 1.8"/>
<g fill="none" stroke="#1f3f9f" stroke-width="0.85" stroke-opacity="0.92"><circle cx="495.1" cy="59.4" r="1.38"/><circle cx="519.4" cy="59.4" r="1.38"/><circle cx="676.8" cy="135.6" r="1.38"/><circle cx="564.5" cy="59.4" r="1.38"/><circle cx="622.1" cy="99.2" r="1.38"/><circle cx="662.1" cy="132.3" r="1.38"/><circle cx="640.7" cy="115.7" r="1.38"/><circle cx="580.9" cy="85.9" r="1.38"/><circle cx="610.6" cy="66.1" r="1.38"/><circle cx="568.2" cy="92.5" r="1.38"/><circle cx="572" cy="89.2" r="1.38"/><circle cx="642.3" cy="105.8" r="1.38"/><circle cx="635.2" cy="105.8" r="1.38"/><circle cx="617.1" cy="99.2" r="1.38"/><circle cx="664.5" cy="125.6" r="1.38"/><circle cx="611.4" cy="99.2" r="1.38"/><circle cx="635.1" cy="99.2" r="1.38"/><circle cx="623.9" cy="102.5" r="1.38"/><circle cx="640.6" cy="125.6" r="1.38"/><circle cx="619.4" cy="115.7" r="1.38"/><circle cx="545.9" cy="56.1" r="1.38"/><circle cx="599.5" cy="99.2" r="1.38"/><circle cx="610.7" cy="82.6" r="1.38"/><circle cx="664.6" cy="135.6" r="1.38"/><circle cx="630.4" cy="122.3" r="1.38"/><circle cx="646.7" cy="115.7" r="1.38"/><circle cx="644.1" cy="119" r="1.38"/><circle cx="617.2" cy="89.2" r="1.38"/><circle cx="539" cy="66.1" r="1.38"/><circle cx="561.1" cy="46.2" r="1.38"/><circle cx="588.8" cy="82.6" r="1.38"/><circle cx="606.6" cy="102.5" r="1.38"/><circle cx="606.8" cy="102.5" r="1.38"/><circle cx="597.8" cy="85.9" r="1.38"/><circle cx="586.6" cy="85.9" r="1.38"/><circle cx="617.7" cy="92.5" r="1.38"/><circle cx="630.3" cy="99.2" r="1.38"/><circle cx="594.8" cy="92.5" r="1.38"/><circle cx="611.2" cy="102.5" r="1.38"/><circle cx="597.4" cy="72.7" r="1.38"/><circle cx="581.3" cy="79.3" r="1.38"/><circle cx="635.5" cy="115.7" r="1.38"/><circle cx="561" cy="59.4" r="1.38"/><circle cx="588.7" cy="79.3" r="1.38"/><circle cx="661.6" cy="132.3" r="1.38"/><circle cx="648.3" cy="115.7" r="1.38"/><circle cx="565.3" cy="66.1" r="1.38"/><circle cx="635" cy="112.4" r="1.38"/><circle cx="610.3" cy="85.9" r="1.38"/><circle cx="568.4" cy="62.8" r="1.38"/><circle cx="558.7" cy="72.7" r="1.38"/><circle cx="629.7" cy="102.5" r="1.38"/><circle cx="600.8" cy="72.7" r="1.38"/><circle cx="595.9" cy="79.3" r="1.38"/><circle cx="641.7" cy="112.4" r="1.38"/><circle cx="629.4" cy="109.1" r="1.38"/><circle cx="591.8" cy="66.1" r="1.38"/><circle cx="576.5" cy="66.1" r="1.38"/><circle cx="607.2" cy="99.2" r="1.38"/><circle cx="570.9" cy="66.1" r="1.38"/><circle cx="643.4" cy="119" r="1.38"/><circle cx="529.6" cy="66.1" r="1.38"/><circle cx="648.3" cy="119" r="1.38"/><circle cx="614.8" cy="92.5" r="1.38"/><circle cx="549.9" cy="49.5" r="1.38"/><circle cx="609" cy="95.9" r="1.38"/><circle cx="645.7" cy="115.7" r="1.38"/><circle cx="636.7" cy="112.4" r="1.38"/><circle cx="584.8" cy="89.2" r="1.38"/><circle cx="558.2" cy="66.1" r="1.38"/><circle cx="575.1" cy="69.4" r="1.38"/><circle cx="590.2" cy="92.5" r="1.38"/><circle cx="602.6" cy="82.6" r="1.38"/><circle cx="591.2" cy="92.5" r="1.38"/><circle cx="634.3" cy="105.8" r="1.38"/><circle cx="655.9" cy="125.6" r="1.38"/><circle cx="569.9" cy="66.1" r="1.38"/><circle cx="596.1" cy="109.1" r="1.38"/><circle cx="660" cy="129" r="1.38"/><circle cx="618.2" cy="82.6" r="1.38"/><circle cx="641.1" cy="115.7" r="1.38"/><circle cx="665" cy="135.6" r="1.38"/><circle cx="609.1" cy="89.2" r="1.38"/><circle cx="631.1" cy="119" r="1.38"/><circle cx="578.3" cy="79.3" r="1.38"/><circle cx="640.7" cy="112.4" r="1.38"/><circle cx="632.5" cy="102.5" r="1.38"/><circle cx="602.8" cy="85.9" r="1.38"/><circle cx="575.8" cy="89.2" r="1.38"/><circle cx="582.1" cy="66.1" r="1.38"/><circle cx="537.2" cy="56.1" r="1.38"/><circle cx="641.8" cy="112.4" r="1.38"/><circle cx="602.5" cy="99.2" r="1.38"/><circle cx="625.4" cy="102.5" r="1.38"/><circle cx="623.8" cy="95.9" r="1.38"/><circle cx="593.5" cy="92.5" r="1.38"/><circle cx="637.3" cy="99.2" r="1.38"/><circle cx="619.6" cy="95.9" r="1.38"/><circle cx="605.9" cy="76" r="1.38"/><circle cx="546.2" cy="59.4" r="1.38"/><circle cx="665.8" cy="135.6" r="1.38"/><circle cx="585.9" cy="82.6" r="1.38"/><circle cx="620.7" cy="92.5" r="1.38"/><circle cx="544.3" cy="69.4" r="1.38"/><circle cx="559.8" cy="76" r="1.38"/><circle cx="561.9" cy="56.1" r="1.38"/><circle cx="596.6" cy="82.6" r="1.38"/><circle cx="595.9" cy="92.5" r="1.38"/><circle cx="568" cy="72.7" r="1.38"/><circle cx="584.3" cy="76" r="1.38"/><circle cx="611.2" cy="89.2" r="1.38"/><circle cx="618.4" cy="102.5" r="1.38"/><circle cx="634.9" cy="105.8" r="1.38"/><circle cx="619.8" cy="112.4" r="1.38"/><circle cx="571.7" cy="76" r="1.38"/><circle cx="660.7" cy="138.9" r="1.38"/><circle cx="645.1" cy="109.1" r="1.38"/><circle cx="602.1" cy="85.9" r="1.38"/><circle cx="661.3" cy="129" r="1.38"/><circle cx="593.5" cy="72.7" r="1.38"/><circle cx="618" cy="112.4" r="1.38"/><circle cx="656.6" cy="132.3" r="1.38"/><circle cx="580.2" cy="79.3" r="1.38"/><circle cx="561" cy="72.7" r="1.38"/><circle cx="567.4" cy="79.3" r="1.38"/><circle cx="608.2" cy="89.2" r="1.38"/><circle cx="610.1" cy="99.2" r="1.38"/><circle cx="636.1" cy="109.1" r="1.38"/><circle cx="568.4" cy="66.1" r="1.38"/><circle cx="558" cy="62.8" r="1.38"/><circle cx="587.2" cy="69.4" r="1.38"/><circle cx="540.2" cy="52.8" r="1.38"/><circle cx="621.1" cy="89.2" r="1.38"/><circle cx="631.5" cy="105.8" r="1.38"/><circle cx="637.8" cy="109.1" r="1.38"/><circle cx="591.7" cy="85.9" r="1.38"/><circle cx="652.5" cy="122.3" r="1.38"/><circle cx="638.2" cy="105.8" r="1.38"/><circle cx="615.5" cy="82.6" r="1.38"/><circle cx="614.8" cy="95.9" r="1.38"/><circle cx="565.4" cy="72.7" r="1.38"/><circle cx="617" cy="82.6" r="1.38"/><circle cx="550.7" cy="59.4" r="1.38"/><circle cx="602.2" cy="99.2" r="1.38"/><circle cx="631.6" cy="92.5" r="1.38"/><circle cx="605.5" cy="95.9" r="1.38"/><circle cx="607.9" cy="95.9" r="1.38"/><circle cx="549.3" cy="59.4" r="1.38"/><circle cx="551.7" cy="59.4" r="1.38"/><circle cx="596.7" cy="89.2" r="1.38"/><circle cx="619.2" cy="99.2" r="1.38"/><circle cx="597.8" cy="99.2" r="1.38"/><circle cx="565.6" cy="72.7" r="1.38"/><circle cx="646.8" cy="112.4" r="1.38"/><circle cx="650" cy="119" r="1.38"/><circle cx="650.5" cy="115.7" r="1.38"/><circle cx="585.2" cy="76" r="1.38"/><circle cx="619.2" cy="112.4" r="1.38"/><circle cx="570.9" cy="82.6" r="1.38"/><circle cx="617.8" cy="102.5" r="1.38"/><circle cx="575.6" cy="56.1" r="1.38"/><circle cx="604.7" cy="89.2" r="1.38"/><circle cx="570.2" cy="66.1" r="1.38"/><circle cx="604" cy="85.9" r="1.38"/><circle cx="608.9" cy="85.9" r="1.38"/><circle cx="589.8" cy="82.6" r="1.38"/><circle cx="611.9" cy="95.9" r="1.38"/><circle cx="605.4" cy="92.5" r="1.38"/><circle cx="625.1" cy="115.7" r="1.38"/><circle cx="632.2" cy="115.7" r="1.38"/><circle cx="614" cy="85.9" r="1.38"/><circle cx="542.4" cy="52.8" r="1.38"/><circle cx="596" cy="89.2" r="1.38"/><circle cx="617.8" cy="99.2" r="1.38"/><circle cx="609" cy="85.9" r="1.38"/><circle cx="577.8" cy="42.9" r="1.38"/><circle cx="607.2" cy="85.9" r="1.38"/><circle cx="607.5" cy="95.9" r="1.38"/><circle cx="641.8" cy="105.8" r="1.38"/><circle cx="593.7" cy="79.3" r="1.38"/><circle cx="621.4" cy="99.2" r="1.38"/><circle cx="622.8" cy="95.9" r="1.38"/><circle cx="625.2" cy="79.3" r="1.38"/><circle cx="540.5" cy="69.4" r="1.38"/><circle cx="654.3" cy="119" r="1.38"/><circle cx="589.4" cy="85.9" r="1.38"/><circle cx="641.7" cy="119" r="1.38"/><circle cx="585.8" cy="89.2" r="1.38"/><circle cx="653.7" cy="119" r="1.38"/><circle cx="565.8" cy="76" r="1.38"/><circle cx="630.4" cy="102.5" r="1.38"/><circle cx="551.8" cy="46.2" r="1.38"/><circle cx="663.8" cy="125.6" r="1.38"/><circle cx="570.7" cy="72.7" r="1.38"/><circle cx="650.8" cy="112.4" r="1.38"/><circle cx="554.6" cy="89.2" r="1.38"/><circle cx="563" cy="56.1" r="1.38"/><circle cx="622.7" cy="92.5" r="1.38"/><circle cx="616.3" cy="99.2" r="1.38"/><circle cx="559.2" cy="59.4" r="1.38"/><circle cx="605.2" cy="85.9" r="1.38"/><circle cx="594.7" cy="85.9" r="1.38"/><circle cx="625.1" cy="105.8" r="1.38"/><circle cx="532.3" cy="66.1" r="1.38"/><circle cx="652.4" cy="115.7" r="1.38"/><circle cx="622.6" cy="105.8" r="1.38"/><circle cx="599.8" cy="85.9" r="1.38"/><circle cx="600.8" cy="89.2" r="1.38"/><circle cx="548.9" cy="42.9" r="1.38"/><circle cx="589.3" cy="62.8" r="1.38"/><circle cx="632.1" cy="92.5" r="1.38"/><circle cx="586.7" cy="92.5" r="1.38"/><circle cx="630.7" cy="112.4" r="1.38"/><circle cx="597" cy="72.7" r="1.38"/><circle cx="562" cy="85.9" r="1.38"/><circle cx="579" cy="82.6" r="1.38"/><circle cx="652.2" cy="119" r="1.38"/><circle cx="639.6" cy="115.7" r="1.38"/><circle cx="555.1" cy="95.9" r="1.38"/><circle cx="578.7" cy="82.6" r="1.38"/><circle cx="580.7" cy="85.9" r="1.38"/><circle cx="619.6" cy="89.2" r="1.38"/><circle cx="589.8" cy="72.7" r="1.38"/><circle cx="636.3" cy="112.4" r="1.38"/><circle cx="568.3" cy="56.1" r="1.38"/><circle cx="583.1" cy="69.4" r="1.38"/><circle cx="591.6" cy="85.9" r="1.38"/><circle cx="586.9" cy="76" r="1.38"/><circle cx="587.7" cy="69.4" r="1.38"/><circle cx="625.6" cy="99.2" r="1.38"/><circle cx="597.2" cy="72.7" r="1.38"/><circle cx="533.2" cy="62.8" r="1.38"/><circle cx="563.4" cy="72.7" r="1.38"/><circle cx="657.2" cy="129" r="1.38"/><circle cx="557.8" cy="69.4" r="1.38"/><circle cx="603.6" cy="89.2" r="1.38"/><circle cx="614.6" cy="95.9" r="1.38"/><circle cx="631.2" cy="105.8" r="1.38"/><circle cx="644.2" cy="109.1" r="1.38"/><circle cx="631.7" cy="105.8" r="1.38"/><circle cx="611.3" cy="92.5" r="1.38"/><circle cx="613.6" cy="109.1" r="1.38"/><circle cx="557.9" cy="69.4" r="1.38"/><circle cx="634.9" cy="99.2" r="1.38"/><circle cx="665.4" cy="129" r="1.38"/><circle cx="570.1" cy="56.1" r="1.38"/><circle cx="657.4" cy="122.3" r="1.38"/><circle cx="619.7" cy="85.9" r="1.38"/><circle cx="646.7" cy="122.3" r="1.38"/><circle cx="574.8" cy="72.7" r="1.38"/><circle cx="615" cy="66.1" r="1.38"/><circle cx="662.5" cy="129" r="1.38"/><circle cx="578.8" cy="62.8" r="1.38"/><circle cx="546.6" cy="69.4" r="1.38"/><circle cx="595.4" cy="95.9" r="1.38"/><circle cx="599.9" cy="92.5" r="1.38"/><circle cx="613.3" cy="82.6" r="1.38"/><circle cx="545.2" cy="52.8" r="1.38"/><circle cx="646.6" cy="125.6" r="1.38"/><circle cx="581.9" cy="82.6" r="1.38"/><circle cx="606.8" cy="99.2" r="1.38"/><circle cx="616.7" cy="105.8" r="1.38"/><circle cx="586.4" cy="102.5" r="1.38"/><circle cx="613.2" cy="105.8" r="1.38"/><circle cx="578.5" cy="72.7" r="1.38"/><circle cx="643.4" cy="119" r="1.38"/><circle cx="613" cy="105.8" r="1.38"/><circle cx="616.3" cy="99.2" r="1.38"/><circle cx="582.6" cy="69.4" r="1.38"/><circle cx="581.2" cy="82.6" r="1.38"/><circle cx="581" cy="66.1" r="1.38"/><circle cx="592.1" cy="79.3" r="1.38"/><circle cx="658.2" cy="129" r="1.38"/><circle cx="654.5" cy="135.6" r="1.38"/><circle cx="612.2" cy="79.3" r="1.38"/><circle cx="554.7" cy="56.1" r="1.38"/><circle cx="573" cy="66.1" r="1.38"/><circle cx="568.9" cy="66.1" r="1.38"/><circle cx="583.1" cy="95.9" r="1.38"/><circle cx="531.6" cy="33.3" r="1.38"/><circle cx="576.2" cy="33.3" r="1.38"/><circle cx="582.3" cy="39.9" r="1.38"/><circle cx="555.9" cy="96" r="1.38"/></g>
<line x1="495.1" y1="28.9" x2="677" y2="132.8" stroke="#526a93" stroke-width="1.0" stroke-opacity="0.8"/>
<g stroke="#c0c0c0" stroke-width="0.85"><line x1="517.4" y1="157" x2="517.4" y2="160.9"/><line x1="558" y1="157" x2="558" y2="160.9"/><line x1="598.5" y1="157" x2="598.5" y2="160.9"/><line x1="639" y1="157" x2="639" y2="160.9"/><line x1="679.6" y1="157" x2="679.6" y2="160.9"/><line x1="487.6" y1="142.2" x2="491.5" y2="142.2"/><line x1="487.6" y1="109.2" x2="491.5" y2="109.2"/><line x1="487.6" y1="76.2" x2="491.5" y2="76.2"/><line x1="487.6" y1="43.2" x2="491.5" y2="43.2"/><line x1="487.6" y1="10.2" x2="491.5" y2="10.2"/></g>
<g font-family="Liberation Sans, sans-serif" font-size="4.6" fill="#444"><text x="517.4" y="167.3" text-anchor="middle">0.6</text><text x="558" y="167.3" text-anchor="middle">0.7</text><text x="598.5" y="167.3" text-anchor="middle">0.8</text><text x="639" y="167.3" text-anchor="middle">0.9</text><text x="679.6" y="167.3" text-anchor="middle">1.0</text><text x="486.5" y="144" text-anchor="end">0</text><text x="486.5" y="111" text-anchor="end">10</text><text x="486.5" y="78" text-anchor="end">20</text><text x="486.5" y="45" text-anchor="end">30</text><text x="486.5" y="12" text-anchor="end">40</text></g>
<text class="s" x="668.7" y="21.2" text-anchor="middle" font-family="Liberation Serif, serif" font-size="8.6" fill="#111" stroke="#111" stroke-width="0.1">C</text>
<text class="s" transform="translate(472.9,79.8) rotate(-90)" text-anchor="middle" font-family="Liberation Serif, serif" font-size="8.4" fill="#111" stroke="#111" stroke-width="0.1">Lung V<tspan font-size="5.9" dy="1.7">20</tspan><tspan dy="-1.7"> [%]</tspan></text>
<text class="s" x="590.7" y="178.8" text-anchor="middle" font-family="Liberation Serif, serif" font-size="8.2" fill="#111" stroke="#111" stroke-width="0.1">LungCropPTV<tspan font-size="6" dy="1.7">V</tspan><tspan dy="-1.7" dx="-0.5"> / Lung</tspan><tspan font-size="6" dy="1.7">V</tspan></text>
</g>
<g>
<rect x="24.2" y="188.5" width="191" height="152" fill="#fff" stroke="#d8d8d8" stroke-width="1.25"/>
<polygon points="27.5,206.7 32,209.5 36.6,212.2 41.1,215 45.6,217.7 50.2,220.5 54.7,223.3 59.3,226 63.8,228.8 68.3,231.5 72.9,234.2 77.4,237 82,239.7 86.5,242.5 91,245.2 95.6,247.9 100.1,250.6 104.6,253.3 109.2,256 113.7,258.7 118.2,261.4 122.8,264.1 127.3,266.8 131.9,269.4 136.4,272.1 140.9,274.8 145.5,277.4 150,280 154.6,282.7 159.1,285.3 163.6,287.9 168.2,290.6 172.7,293.2 177.2,295.8 181.8,298.4 186.3,301 190.8,303.6 195.4,306.2 199.9,308.8 204.5,311.4 209,314 209,318.4 204.5,315.7 199.9,312.9 195.4,310.2 190.8,307.5 186.3,304.7 181.8,302 177.2,299.3 172.7,296.5 168.2,293.8 163.6,291.1 159.1,288.4 154.6,285.7 150,283 145.5,280.3 140.9,277.6 136.4,274.9 131.9,272.3 127.3,269.6 122.8,266.9 118.2,264.3 113.7,261.6 109.2,259 104.6,256.4 100.1,253.7 95.6,251.1 91,248.5 86.5,245.9 82,243.3 77.4,240.7 72.9,238.1 68.3,235.5 63.8,232.9 59.3,230.3 54.7,227.8 50.2,225.2 45.6,222.6 41.1,220 36.6,217.4 32,214.9 27.5,212.3" fill="#a6c2e3" fill-opacity="0.9"/>
<line x1="27.5" y1="194.2" x2="209" y2="300.9" stroke="#8a95dc" stroke-width="0.9" stroke-dasharray="1.7 1.8"/>
<line x1="27.5" y1="224.8" x2="209" y2="331.5" stroke="#8a95dc" stroke-width="0.9" stroke-dasharray="1.7 1.8"/>
<g fill="none" stroke="#1f3f9f" stroke-width="0.85" stroke-opacity="0.92"><circle cx="27.5" cy="233.3" r="1.38"/><circle cx="51.6" cy="237.2" r="1.38"/><circle cx="209" cy="316.7" r="1.38"/><circle cx="96.7" cy="246.9" r="1.38"/><circle cx="154.3" cy="288.6" r="1.38"/><circle cx="194.3" cy="310.9" r="1.38"/><circle cx="172.9" cy="296.3" r="1.38"/><circle cx="113.1" cy="256.8" r="1.38"/><circle cx="142.8" cy="264.4" r="1.38"/><circle cx="100.4" cy="257.5" r="1.38"/><circle cx="104.2" cy="253.9" r="1.38"/><circle cx="174.5" cy="287.3" r="1.38"/><circle cx="167.4" cy="291.2" r="1.38"/><circle cx="149.3" cy="285.4" r="1.38"/><circle cx="196.7" cy="312.7" r="1.38"/><circle cx="143.6" cy="284.1" r="1.38"/><circle cx="167.3" cy="289.9" r="1.38"/><circle cx="156.1" cy="288.5" r="1.38"/><circle cx="172.8" cy="313.2" r="1.38"/><circle cx="151.6" cy="294.6" r="1.38"/><circle cx="78.1" cy="240.7" r="1.38"/><circle cx="131.7" cy="270" r="1.38"/><circle cx="142.9" cy="278" r="1.38"/><circle cx="196.8" cy="321.9" r="1.38"/><circle cx="162.6" cy="296.2" r="1.38"/><circle cx="178.9" cy="297.8" r="1.38"/><circle cx="176.3" cy="295.5" r="1.38"/><circle cx="149.4" cy="279.5" r="1.38"/><circle cx="71.2" cy="248.5" r="1.38"/><circle cx="93.3" cy="258.6" r="1.38"/><circle cx="121" cy="265.8" r="1.38"/><circle cx="138.8" cy="276.1" r="1.38"/><circle cx="139" cy="282.1" r="1.38"/><circle cx="130" cy="267.8" r="1.38"/><circle cx="118.8" cy="261.2" r="1.38"/><circle cx="149.9" cy="277.6" r="1.38"/><circle cx="162.5" cy="281.4" r="1.38"/><circle cx="127" cy="270.9" r="1.38"/><circle cx="143.4" cy="281.6" r="1.38"/><circle cx="129.6" cy="267.5" r="1.38"/><circle cx="113.5" cy="264.1" r="1.38"/><circle cx="167.7" cy="294" r="1.38"/><circle cx="93.2" cy="248.3" r="1.38"/><circle cx="120.9" cy="260.5" r="1.38"/><circle cx="193.8" cy="310.1" r="1.38"/><circle cx="180.5" cy="309.3" r="1.38"/><circle cx="97.5" cy="250.1" r="1.38"/><circle cx="167.2" cy="302.6" r="1.38"/><circle cx="142.5" cy="273.2" r="1.38"/><circle cx="100.6" cy="252.2" r="1.38"/><circle cx="90.9" cy="258.1" r="1.38"/><circle cx="161.9" cy="284.2" r="1.38"/><circle cx="133" cy="265.5" r="1.38"/><circle cx="128.1" cy="259.9" r="1.38"/><circle cx="173.9" cy="305.4" r="1.38"/><circle cx="161.6" cy="300.6" r="1.38"/><circle cx="124" cy="262.9" r="1.38"/><circle cx="108.7" cy="252" r="1.38"/><circle cx="139.4" cy="287.9" r="1.38"/><circle cx="103.1" cy="254" r="1.38"/><circle cx="175.6" cy="303.9" r="1.38"/><circle cx="61.8" cy="236.3" r="1.38"/><circle cx="180.5" cy="301.3" r="1.38"/><circle cx="147" cy="284" r="1.38"/><circle cx="82.1" cy="246.7" r="1.38"/><circle cx="141.2" cy="273.6" r="1.38"/><circle cx="177.9" cy="297" r="1.38"/><circle cx="168.9" cy="296.3" r="1.38"/><circle cx="117" cy="260" r="1.38"/><circle cx="90.4" cy="250.2" r="1.38"/><circle cx="107.3" cy="257.7" r="1.38"/><circle cx="122.4" cy="277.6" r="1.38"/><circle cx="134.8" cy="282" r="1.38"/><circle cx="123.4" cy="273.8" r="1.38"/><circle cx="166.5" cy="290.9" r="1.38"/><circle cx="188.1" cy="312" r="1.38"/><circle cx="102.1" cy="252.2" r="1.38"/><circle cx="128.3" cy="274" r="1.38"/><circle cx="192.2" cy="329.9" r="1.38"/><circle cx="150.4" cy="273" r="1.38"/><circle cx="173.3" cy="291.4" r="1.38"/><circle cx="197.2" cy="322.7" r="1.38"/><circle cx="141.3" cy="283.3" r="1.38"/><circle cx="163.3" cy="294.6" r="1.38"/><circle cx="110.5" cy="254.3" r="1.38"/><circle cx="172.9" cy="299.6" r="1.38"/><circle cx="164.7" cy="293.9" r="1.38"/><circle cx="135" cy="265.9" r="1.38"/><circle cx="108" cy="259.1" r="1.38"/><circle cx="114.3" cy="251.9" r="1.38"/><circle cx="69.4" cy="243" r="1.38"/><circle cx="174" cy="300.2" r="1.38"/><circle cx="134.7" cy="276" r="1.38"/><circle cx="157.6" cy="284.1" r="1.38"/><circle cx="156" cy="281.8" r="1.38"/><circle cx="125.7" cy="263.5" r="1.38"/><circle cx="169.5" cy="286.6" r="1.38"/><circle cx="151.8" cy="280.8" r="1.38"/><circle cx="138.1" cy="266.5" r="1.38"/><circle cx="78.4" cy="238.7" r="1.38"/><circle cx="198" cy="316.9" r="1.38"/><circle cx="118.1" cy="268" r="1.38"/><circle cx="152.9" cy="278.9" r="1.38"/><circle cx="76.5" cy="250.6" r="1.38"/><circle cx="92" cy="255.3" r="1.38"/><circle cx="94.1" cy="250.7" r="1.38"/><circle cx="128.8" cy="269.6" r="1.38"/><circle cx="128.1" cy="269.7" r="1.38"/><circle cx="100.2" cy="257" r="1.38"/><circle cx="116.5" cy="257.5" r="1.38"/><circle cx="143.4" cy="268.1" r="1.38"/><circle cx="150.6" cy="282" r="1.38"/><circle cx="167.1" cy="295.3" r="1.38"/><circle cx="152" cy="287.5" r="1.38"/><circle cx="103.9" cy="260" r="1.38"/><circle cx="192.9" cy="318.7" r="1.38"/><circle cx="177.3" cy="295.9" r="1.38"/><circle cx="134.3" cy="272.4" r="1.38"/><circle cx="193.5" cy="315.8" r="1.38"/><circle cx="125.7" cy="263.7" r="1.38"/><circle cx="150.2" cy="292.9" r="1.38"/><circle cx="188.8" cy="315.6" r="1.38"/><circle cx="112.4" cy="269.6" r="1.38"/><circle cx="93.2" cy="260" r="1.38"/><circle cx="99.6" cy="249.4" r="1.38"/><circle cx="140.4" cy="276.1" r="1.38"/><circle cx="142.3" cy="274" r="1.38"/><circle cx="168.3" cy="293.2" r="1.38"/><circle cx="100.6" cy="250.4" r="1.38"/><circle cx="90.2" cy="256.7" r="1.38"/><circle cx="119.4" cy="253.2" r="1.38"/><circle cx="72.4" cy="245.3" r="1.38"/><circle cx="153.3" cy="271.2" r="1.38"/><circle cx="163.7" cy="293.1" r="1.38"/><circle cx="170" cy="295.9" r="1.38"/><circle cx="123.9" cy="261.8" r="1.38"/><circle cx="184.7" cy="307.5" r="1.38"/><circle cx="170.4" cy="297.6" r="1.38"/><circle cx="147.7" cy="274.1" r="1.38"/><circle cx="147" cy="271.4" r="1.38"/><circle cx="97.6" cy="246.1" r="1.38"/><circle cx="149.2" cy="276.5" r="1.38"/><circle cx="82.9" cy="243.8" r="1.38"/><circle cx="134.4" cy="277.8" r="1.38"/><circle cx="163.8" cy="288.6" r="1.38"/><circle cx="137.7" cy="270.2" r="1.38"/><circle cx="140.1" cy="256.9" r="1.38"/><circle cx="81.5" cy="243.5" r="1.38"/><circle cx="83.9" cy="253.4" r="1.38"/><circle cx="128.9" cy="265.6" r="1.38"/><circle cx="151.4" cy="286.7" r="1.38"/><circle cx="130" cy="268.9" r="1.38"/><circle cx="97.8" cy="253" r="1.38"/><circle cx="179" cy="304.4" r="1.38"/><circle cx="182.2" cy="301.2" r="1.38"/><circle cx="182.7" cy="310.7" r="1.38"/><circle cx="117.4" cy="259.4" r="1.38"/><circle cx="151.4" cy="285.1" r="1.38"/><circle cx="103.1" cy="259.9" r="1.38"/><circle cx="150" cy="293.1" r="1.38"/><circle cx="107.8" cy="245.7" r="1.38"/><circle cx="136.9" cy="269.8" r="1.38"/><circle cx="102.4" cy="258.3" r="1.38"/><circle cx="136.2" cy="277.6" r="1.38"/><circle cx="141.1" cy="263.4" r="1.38"/><circle cx="122" cy="255.2" r="1.38"/><circle cx="144.1" cy="268.6" r="1.38"/><circle cx="137.6" cy="277.1" r="1.38"/><circle cx="157.3" cy="296.5" r="1.38"/><circle cx="164.4" cy="293.9" r="1.38"/><circle cx="146.2" cy="266.8" r="1.38"/><circle cx="74.6" cy="240.6" r="1.38"/><circle cx="128.2" cy="260.7" r="1.38"/><circle cx="150" cy="281.8" r="1.38"/><circle cx="141.2" cy="269.1" r="1.38"/><circle cx="110" cy="254.9" r="1.38"/><circle cx="139.4" cy="276.5" r="1.38"/><circle cx="139.7" cy="277.5" r="1.38"/><circle cx="174" cy="296.6" r="1.38"/><circle cx="125.9" cy="258.2" r="1.38"/><circle cx="153.6" cy="276.2" r="1.38"/><circle cx="155" cy="283.5" r="1.38"/><circle cx="157.4" cy="272.1" r="1.38"/><circle cx="72.7" cy="247.5" r="1.38"/><circle cx="186.5" cy="306" r="1.38"/><circle cx="121.6" cy="260" r="1.38"/><circle cx="173.9" cy="313.1" r="1.38"/><circle cx="118" cy="267.5" r="1.38"/><circle cx="185.9" cy="306.6" r="1.38"/><circle cx="98" cy="255.2" r="1.38"/><circle cx="162.6" cy="306.9" r="1.38"/><circle cx="84" cy="246.7" r="1.38"/><circle cx="196" cy="313" r="1.38"/><circle cx="102.9" cy="262.1" r="1.38"/><circle cx="183" cy="293.7" r="1.38"/><circle cx="86.8" cy="255.5" r="1.38"/><circle cx="95.2" cy="241.5" r="1.38"/><circle cx="154.9" cy="278.4" r="1.38"/><circle cx="148.5" cy="276.5" r="1.38"/><circle cx="91.4" cy="242.5" r="1.38"/><circle cx="137.4" cy="267.9" r="1.38"/><circle cx="126.9" cy="268.4" r="1.38"/><circle cx="157.3" cy="284.3" r="1.38"/><circle cx="64.5" cy="237.6" r="1.38"/><circle cx="184.6" cy="297.1" r="1.38"/><circle cx="154.8" cy="275.8" r="1.38"/><circle cx="132" cy="268" r="1.38"/><circle cx="133" cy="267.6" r="1.38"/><circle cx="81.1" cy="246.8" r="1.38"/><circle cx="121.5" cy="263.5" r="1.38"/><circle cx="164.3" cy="282.9" r="1.38"/><circle cx="118.9" cy="273.5" r="1.38"/><circle cx="162.9" cy="300.9" r="1.38"/><circle cx="129.2" cy="269.5" r="1.38"/><circle cx="94.2" cy="257.8" r="1.38"/><circle cx="111.2" cy="265.9" r="1.38"/><circle cx="184.4" cy="305.8" r="1.38"/><circle cx="171.8" cy="297.8" r="1.38"/><circle cx="87.3" cy="254.3" r="1.38"/><circle cx="110.9" cy="259" r="1.38"/><circle cx="112.9" cy="270.3" r="1.38"/><circle cx="151.8" cy="284.3" r="1.38"/><circle cx="122" cy="255.5" r="1.38"/><circle cx="168.5" cy="293.5" r="1.38"/><circle cx="100.5" cy="247.3" r="1.38"/><circle cx="115.3" cy="272" r="1.38"/><circle cx="123.8" cy="259" r="1.38"/><circle cx="119.1" cy="259.9" r="1.38"/><circle cx="119.9" cy="259.4" r="1.38"/><circle cx="157.8" cy="285.1" r="1.38"/><circle cx="129.4" cy="259.1" r="1.38"/><circle cx="65.4" cy="237.9" r="1.38"/><circle cx="95.6" cy="251.8" r="1.38"/><circle cx="189.4" cy="316" r="1.38"/><circle cx="90" cy="255.8" r="1.38"/><circle cx="135.8" cy="262.8" r="1.38"/><circle cx="146.8" cy="275" r="1.38"/><circle cx="163.4" cy="302" r="1.38"/><circle cx="176.4" cy="301.5" r="1.38"/><circle cx="163.9" cy="292.6" r="1.38"/><circle cx="143.5" cy="274.7" r="1.38"/><circle cx="145.8" cy="289.3" r="1.38"/><circle cx="90.1" cy="253.4" r="1.38"/><circle cx="167.1" cy="289.8" r="1.38"/><circle cx="197.6" cy="323.2" r="1.38"/><circle cx="102.3" cy="251.9" r="1.38"/><circle cx="189.6" cy="309" r="1.38"/><circle cx="151.9" cy="279.5" r="1.38"/><circle cx="178.9" cy="305.3" r="1.38"/><circle cx="107" cy="255.3" r="1.38"/><circle cx="147.2" cy="271.4" r="1.38"/><circle cx="194.7" cy="314.2" r="1.38"/><circle cx="111" cy="247.2" r="1.38"/><circle cx="78.8" cy="246.4" r="1.38"/><circle cx="127.6" cy="268.6" r="1.38"/><circle cx="132.1" cy="277.9" r="1.38"/><circle cx="145.5" cy="268.8" r="1.38"/><circle cx="77.4" cy="241" r="1.38"/><circle cx="178.8" cy="306.6" r="1.38"/><circle cx="114.1" cy="257.6" r="1.38"/><circle cx="139" cy="276.2" r="1.38"/><circle cx="148.9" cy="289" r="1.38"/><circle cx="118.6" cy="281.2" r="1.38"/><circle cx="145.4" cy="288" r="1.38"/><circle cx="110.7" cy="257.1" r="1.38"/><circle cx="175.6" cy="304.3" r="1.38"/><circle cx="145.2" cy="280.4" r="1.38"/><circle cx="148.5" cy="278.6" r="1.38"/><circle cx="114.8" cy="251.1" r="1.38"/><circle cx="113.4" cy="255.4" r="1.38"/><circle cx="113.2" cy="258.8" r="1.38"/><circle cx="124.3" cy="259.7" r="1.38"/><circle cx="190.4" cy="315.3" r="1.38"/><circle cx="186.7" cy="319.8" r="1.38"/><circle cx="144.4" cy="271.9" r="1.38"/><circle cx="86.9" cy="250.4" r="1.38"/><circle cx="105.2" cy="256.4" r="1.38"/><circle cx="101.1" cy="262.3" r="1.38"/><circle cx="115.3" cy="272.8" r="1.38"/><circle cx="87.1" cy="274.4" r="1.38"/></g>
<line x1="27.5" y1="209.5" x2="209" y2="316.2" stroke="#526a93" stroke-width="1.0" stroke-opacity="0.8"/>
<g stroke="#c0c0c0" stroke-width="0.85"><line x1="49.6" y1="340.5" x2="49.6" y2="344.4"/><line x1="90.2" y1="340.5" x2="90.2" y2="344.4"/><line x1="130.8" y1="340.5" x2="130.8" y2="344.4"/><line x1="171.3" y1="340.5" x2="171.3" y2="344.4"/><line x1="211.8" y1="340.5" x2="211.8" y2="344.4"/><line x1="20.3" y1="337.4" x2="24.2" y2="337.4"/><line x1="20.3" y1="301.2" x2="24.2" y2="301.2"/><line x1="20.3" y1="265" x2="24.2" y2="265"/><line x1="20.3" y1="228.8" x2="24.2" y2="228.8"/><line x1="20.3" y1="192.6" x2="24.2" y2="192.6"/></g>
<g font-family="Liberation Sans, sans-serif" font-size="4.6" fill="#444"><text x="49.6" y="351.3" text-anchor="middle">0.6</text><text x="90.2" y="351.3" text-anchor="middle">0.7</text><text x="130.8" y="351.3" text-anchor="middle">0.8</text><text x="171.3" y="351.3" text-anchor="middle">0.9</text><text x="211.8" y="351.3" text-anchor="middle">1.0</text><text x="19.2" y="339.2" text-anchor="end">0</text><text x="19.2" y="303" text-anchor="end">5</text><text x="19.2" y="266.8" text-anchor="end">10</text><text x="19.2" y="230.6" text-anchor="end">15</text><text x="19.2" y="194.4" text-anchor="end">20</text></g>
<text class="s" x="196.1" y="203.8" text-anchor="middle" font-family="Liberation Serif, serif" font-size="8.6" fill="#111" stroke="#111" stroke-width="0.1">D</text>
<text class="s" transform="translate(8.1,256.4) rotate(-90)" text-anchor="middle" font-family="Liberation Serif, serif" font-size="8.4" fill="#111" stroke="#111" stroke-width="0.1">Lung D<tspan font-size="5.9" dy="1.7">mean</tspan><tspan dy="-1.7"> [Gy]</tspan></text>
<text class="s" x="117.9" y="362.2" text-anchor="middle" font-family="Liberation Serif, serif" font-size="8.2" fill="#111" stroke="#111" stroke-width="0.1">LungCropPTV<tspan font-size="6" dy="1.7">V</tspan><tspan dy="-1.7" dx="-0.5"> / Lung</tspan><tspan font-size="6" dy="1.7">V</tspan></text>
</g>
<g>
<rect x="260.5" y="190.3" width="187.2" height="150.3" fill="#fff" stroke="#d8d8d8" stroke-width="1.25"/>
<polygon points="264,224.4 268.5,226.6 273,228.7 277.6,230.9 282.1,233 286.6,235.2 291.1,237.3 295.6,239.4 300.1,241.5 304.7,243.5 309.2,245.6 313.7,247.6 318.2,249.6 322.7,251.7 327.2,253.7 331.8,255.7 336.3,257.7 340.8,259.7 345.3,261.7 349.8,263.7 354.4,265.6 358.9,267.6 363.4,269.6 367.9,271.6 372.4,273.5 376.9,275.5 381.5,277.5 386,279.4 390.5,281.4 395,283.3 399.5,285.3 404,287.2 408.6,289.2 413.1,291.1 417.6,293.1 422.1,295 426.6,296.9 431.1,298.9 435.7,300.8 440.2,302.8 444.7,304.7 444.7,312.7 440.2,310.6 435.7,308.4 431.1,306.3 426.6,304.2 422.1,302 417.6,299.9 413.1,297.8 408.6,295.6 404,293.5 399.5,291.4 395,289.3 390.5,287.1 386,285 381.5,282.9 376.9,280.8 372.4,278.7 367.9,276.6 363.4,274.5 358.9,272.4 354.4,270.3 349.8,268.2 345.3,266.1 340.8,264 336.3,261.9 331.8,259.8 327.2,257.8 322.7,255.7 318.2,253.7 313.7,251.6 309.2,249.6 304.7,247.5 300.1,245.5 295.6,243.5 291.1,241.6 286.6,239.6 282.1,237.7 277.6,235.7 273,233.8 268.5,231.9 264,230" fill="#a6c2e3" fill-opacity="0.9"/>
<line x1="264" y1="201.2" x2="444.7" y2="282.7" stroke="#8a95dc" stroke-width="0.9" stroke-dasharray="1.7 1.8"/>
<line x1="264" y1="253.2" x2="444.7" y2="334.7" stroke="#8a95dc" stroke-width="0.9" stroke-dasharray="1.7 1.8"/>
<g fill="none" stroke="#1f3f9f" stroke-width="0.85" stroke-opacity="0.92"><circle cx="264.2" cy="234.9" r="1.38"/><circle cx="401.1" cy="292.6" r="1.38"/><circle cx="316.1" cy="244.8" r="1.38"/><circle cx="323.8" cy="256.6" r="1.38"/><circle cx="276.4" cy="232.8" r="1.38"/><circle cx="436.3" cy="302.5" r="1.38"/><circle cx="375.1" cy="274.5" r="1.38"/><circle cx="292.9" cy="238.8" r="1.38"/><circle cx="346.6" cy="260.8" r="1.38"/><circle cx="287.2" cy="254.1" r="1.38"/><circle cx="316.9" cy="248" r="1.38"/><circle cx="305.1" cy="247.1" r="1.38"/><circle cx="317.3" cy="265.6" r="1.38"/><circle cx="365" cy="281.2" r="1.38"/><circle cx="275.8" cy="219.4" r="1.38"/><circle cx="423.2" cy="303.9" r="1.38"/><circle cx="400.4" cy="294.9" r="1.38"/><circle cx="329.2" cy="263.6" r="1.38"/><circle cx="279.6" cy="257.4" r="1.38"/><circle cx="269.1" cy="224.8" r="1.38"/><circle cx="275.3" cy="223.9" r="1.38"/><circle cx="305.6" cy="254" r="1.38"/><circle cx="369.9" cy="289.5" r="1.38"/><circle cx="273.4" cy="231.3" r="1.38"/><circle cx="285" cy="251.5" r="1.38"/><circle cx="326.4" cy="279.1" r="1.38"/><circle cx="418.3" cy="291" r="1.38"/><circle cx="290.9" cy="260.7" r="1.38"/><circle cx="351.8" cy="284.2" r="1.38"/><circle cx="362.8" cy="266.4" r="1.38"/><circle cx="322" cy="255.4" r="1.38"/><circle cx="361" cy="265.7" r="1.38"/><circle cx="288.9" cy="252.3" r="1.38"/><circle cx="356.6" cy="261.6" r="1.38"/><circle cx="284.5" cy="248" r="1.38"/><circle cx="295.9" cy="263.2" r="1.38"/><circle cx="290.3" cy="218.2" r="1.38"/><circle cx="276.2" cy="238.9" r="1.38"/><circle cx="316.6" cy="252.8" r="1.38"/><circle cx="352.9" cy="263.8" r="1.38"/><circle cx="293.7" cy="249.4" r="1.38"/><circle cx="389.6" cy="283" r="1.38"/><circle cx="331.9" cy="239.6" r="1.38"/><circle cx="282" cy="227.5" r="1.38"/><circle cx="268.2" cy="229" r="1.38"/><circle cx="267" cy="218.7" r="1.38"/><circle cx="323.1" cy="238.4" r="1.38"/><circle cx="433.8" cy="303.2" r="1.38"/><circle cx="311.1" cy="268.7" r="1.38"/><circle cx="431.4" cy="303" r="1.38"/><circle cx="283.3" cy="210.5" r="1.38"/><circle cx="289.7" cy="237.6" r="1.38"/><circle cx="393.4" cy="289.6" r="1.38"/><circle cx="268.2" cy="223.1" r="1.38"/><circle cx="278.9" cy="226.1" r="1.38"/><circle cx="349.4" cy="272.9" r="1.38"/><circle cx="355.5" cy="295" r="1.38"/><circle cx="373.8" cy="280.1" r="1.38"/><circle cx="378.1" cy="280.2" r="1.38"/><circle cx="300.2" cy="236.7" r="1.38"/><circle cx="378.2" cy="293.6" r="1.38"/><circle cx="331.6" cy="265.7" r="1.38"/><circle cx="306.2" cy="249.4" r="1.38"/><circle cx="312.7" cy="248.9" r="1.38"/><circle cx="304.6" cy="241.7" r="1.38"/><circle cx="270.2" cy="235" r="1.38"/><circle cx="333.5" cy="290.9" r="1.38"/><circle cx="339.4" cy="266.8" r="1.38"/><circle cx="284.6" cy="248.7" r="1.38"/><circle cx="314.3" cy="244.5" r="1.38"/><circle cx="325" cy="263.9" r="1.38"/><circle cx="394" cy="276.7" r="1.38"/><circle cx="384" cy="295.5" r="1.38"/><circle cx="298.2" cy="240.7" r="1.38"/><circle cx="340.1" cy="273.6" r="1.38"/><circle cx="287.3" cy="244.8" r="1.38"/><circle cx="304" cy="270" r="1.38"/><circle cx="311.2" cy="261.9" r="1.38"/><circle cx="273.4" cy="243" r="1.38"/><circle cx="331.3" cy="241.2" r="1.38"/><circle cx="293.9" cy="231.1" r="1.38"/><circle cx="313.8" cy="239.6" r="1.38"/><circle cx="317.3" cy="242" r="1.38"/><circle cx="286.7" cy="229.6" r="1.38"/><circle cx="302.7" cy="260.4" r="1.38"/><circle cx="274.6" cy="232.1" r="1.38"/><circle cx="285.4" cy="240.3" r="1.38"/><circle cx="286.7" cy="228.2" r="1.38"/><circle cx="276.6" cy="220.8" r="1.38"/><circle cx="298.7" cy="227.6" r="1.38"/><circle cx="373.1" cy="287.5" r="1.38"/><circle cx="344.3" cy="267.9" r="1.38"/><circle cx="293.5" cy="253.1" r="1.38"/><circle cx="308.2" cy="253.1" r="1.38"/><circle cx="274.7" cy="219.9" r="1.38"/><circle cx="280.8" cy="234.1" r="1.38"/><circle cx="313.2" cy="223" r="1.38"/><circle cx="306.2" cy="258.5" r="1.38"/><circle cx="268.9" cy="230" r="1.38"/><circle cx="404.9" cy="292.1" r="1.38"/><circle cx="303.4" cy="249" r="1.38"/><circle cx="268.8" cy="237.7" r="1.38"/><circle cx="287.9" cy="237.3" r="1.38"/><circle cx="421.7" cy="298.5" r="1.38"/><circle cx="362.9" cy="264" r="1.38"/><circle cx="282.5" cy="234.7" r="1.38"/><circle cx="368" cy="277.6" r="1.38"/><circle cx="298.7" cy="257.7" r="1.38"/><circle cx="400.9" cy="286.6" r="1.38"/><circle cx="285.4" cy="220.3" r="1.38"/><circle cx="302.5" cy="221.7" r="1.38"/><circle cx="379.4" cy="276.8" r="1.38"/><circle cx="345.4" cy="256.3" r="1.38"/><circle cx="294.9" cy="251.5" r="1.38"/><circle cx="399.3" cy="299" r="1.38"/><circle cx="382.6" cy="273.7" r="1.38"/><circle cx="330.6" cy="277.5" r="1.38"/><circle cx="323" cy="272.9" r="1.38"/><circle cx="294.1" cy="230.2" r="1.38"/><circle cx="316.3" cy="247.2" r="1.38"/><circle cx="349.6" cy="277.9" r="1.38"/><circle cx="293.3" cy="232" r="1.38"/><circle cx="275.3" cy="218.7" r="1.38"/><circle cx="280.9" cy="245.6" r="1.38"/><circle cx="294" cy="235.4" r="1.38"/><circle cx="278.7" cy="225.2" r="1.38"/><circle cx="410.9" cy="296.9" r="1.38"/><circle cx="370.3" cy="276.7" r="1.38"/><circle cx="320.3" cy="259" r="1.38"/><circle cx="400.7" cy="298.6" r="1.38"/><circle cx="301.5" cy="265.4" r="1.38"/><circle cx="337.6" cy="240.9" r="1.38"/><circle cx="309.4" cy="264.2" r="1.38"/><circle cx="307.7" cy="251" r="1.38"/><circle cx="341.8" cy="270.7" r="1.38"/><circle cx="283" cy="251" r="1.38"/><circle cx="339.9" cy="290.2" r="1.38"/><circle cx="271.8" cy="243.3" r="1.38"/><circle cx="265.3" cy="227.9" r="1.38"/><circle cx="275.9" cy="240.2" r="1.38"/><circle cx="282.3" cy="218.9" r="1.38"/><circle cx="266.1" cy="237" r="1.38"/><circle cx="268" cy="233.5" r="1.38"/><circle cx="294.4" cy="228.7" r="1.38"/><circle cx="285" cy="221.4" r="1.38"/><circle cx="315.5" cy="236.1" r="1.38"/><circle cx="315.5" cy="242.8" r="1.38"/><circle cx="332.6" cy="269.2" r="1.38"/><circle cx="314.1" cy="250.9" r="1.38"/><circle cx="285.7" cy="231.1" r="1.38"/><circle cx="290.7" cy="238.8" r="1.38"/><circle cx="288.3" cy="258.4" r="1.38"/><circle cx="286.7" cy="236.7" r="1.38"/><circle cx="369" cy="266.5" r="1.38"/><circle cx="284.6" cy="269.1" r="1.38"/><circle cx="266.8" cy="217.9" r="1.38"/><circle cx="312.1" cy="258.6" r="1.38"/><circle cx="285" cy="251.7" r="1.38"/><circle cx="295.6" cy="246.7" r="1.38"/><circle cx="355.7" cy="266.4" r="1.38"/><circle cx="310.4" cy="268.4" r="1.38"/><circle cx="355.6" cy="270.7" r="1.38"/><circle cx="389.9" cy="289.3" r="1.38"/><circle cx="299.4" cy="245.7" r="1.38"/><circle cx="295.9" cy="267" r="1.38"/><circle cx="279.2" cy="222.7" r="1.38"/><circle cx="272" cy="214.9" r="1.38"/><circle cx="327.5" cy="247.6" r="1.38"/><circle cx="280.1" cy="233.5" r="1.38"/><circle cx="279.5" cy="231.5" r="1.38"/><circle cx="335.1" cy="264.2" r="1.38"/><circle cx="296" cy="236.1" r="1.38"/><circle cx="419.7" cy="299.5" r="1.38"/><circle cx="293.6" cy="225.1" r="1.38"/><circle cx="344.7" cy="250.2" r="1.38"/><circle cx="318" cy="251.1" r="1.38"/><circle cx="289.6" cy="232.4" r="1.38"/><circle cx="296.4" cy="234" r="1.38"/><circle cx="289.4" cy="233.9" r="1.38"/><circle cx="348.9" cy="259" r="1.38"/><circle cx="353.6" cy="274" r="1.38"/><circle cx="274.1" cy="241.7" r="1.38"/><circle cx="284.5" cy="256" r="1.38"/><circle cx="315.1" cy="255.3" r="1.38"/><circle cx="299.4" cy="236.9" r="1.38"/><circle cx="276.1" cy="218.8" r="1.38"/><circle cx="275.3" cy="218.4" r="1.38"/><circle cx="283.2" cy="217.8" r="1.38"/><circle cx="341.2" cy="272.9" r="1.38"/><circle cx="320.5" cy="278.5" r="1.38"/><circle cx="330.9" cy="259" r="1.38"/><circle cx="370" cy="277.9" r="1.38"/><circle cx="276" cy="203.7" r="1.38"/><circle cx="290.6" cy="241.3" r="1.38"/><circle cx="290.9" cy="233.8" r="1.38"/><circle cx="307.4" cy="250.5" r="1.38"/><circle cx="300.5" cy="235.8" r="1.38"/><circle cx="280.6" cy="225.3" r="1.38"/><circle cx="312.4" cy="240.5" r="1.38"/><circle cx="341.4" cy="256.5" r="1.38"/><circle cx="302.2" cy="274.3" r="1.38"/><circle cx="336.7" cy="272" r="1.38"/><circle cx="332" cy="241.5" r="1.38"/><circle cx="349.1" cy="265.5" r="1.38"/><circle cx="323" cy="251.9" r="1.38"/><circle cx="267.2" cy="256.5" r="1.38"/><circle cx="380.5" cy="263.9" r="1.38"/><circle cx="340.2" cy="273" r="1.38"/><circle cx="293.2" cy="254.3" r="1.38"/><circle cx="337.4" cy="291.8" r="1.38"/><circle cx="341.3" cy="287.8" r="1.38"/><circle cx="293.6" cy="241.4" r="1.38"/><circle cx="274.4" cy="211" r="1.38"/><circle cx="285.6" cy="226.5" r="1.38"/><circle cx="328.1" cy="250" r="1.38"/><circle cx="300.7" cy="244" r="1.38"/><circle cx="277.5" cy="224.7" r="1.38"/><circle cx="323.5" cy="239" r="1.38"/><circle cx="277.1" cy="241.9" r="1.38"/><circle cx="318.8" cy="256.7" r="1.38"/><circle cx="286.9" cy="235.2" r="1.38"/><circle cx="329.5" cy="253.2" r="1.38"/><circle cx="286.5" cy="231.8" r="1.38"/><circle cx="319.7" cy="241.5" r="1.38"/><circle cx="354.4" cy="299.7" r="1.38"/><circle cx="343.2" cy="261.3" r="1.38"/><circle cx="275" cy="224.6" r="1.38"/><circle cx="290" cy="262.1" r="1.38"/><circle cx="291.5" cy="237.8" r="1.38"/><circle cx="285.2" cy="243.9" r="1.38"/><circle cx="290" cy="228.4" r="1.38"/><circle cx="344.7" cy="261.2" r="1.38"/><circle cx="281.5" cy="211.1" r="1.38"/><circle cx="332.9" cy="267.7" r="1.38"/><circle cx="276.6" cy="261.1" r="1.38"/><circle cx="368.8" cy="277.7" r="1.38"/><circle cx="333.8" cy="266.7" r="1.38"/><circle cx="404" cy="297.7" r="1.38"/><circle cx="341.1" cy="280.9" r="1.38"/><circle cx="382.8" cy="273.6" r="1.38"/><circle cx="280.2" cy="225" r="1.38"/><circle cx="305.8" cy="244.8" r="1.38"/><circle cx="329.7" cy="277" r="1.38"/><circle cx="280.2" cy="219.3" r="1.38"/><circle cx="363.7" cy="266.4" r="1.38"/><circle cx="312.4" cy="249" r="1.38"/><circle cx="287.6" cy="241.3" r="1.38"/><circle cx="433.3" cy="304.1" r="1.38"/><circle cx="296.8" cy="240.1" r="1.38"/><circle cx="359.1" cy="285.2" r="1.38"/><circle cx="272.4" cy="287.5" r="1.38"/><circle cx="438.3" cy="305" r="1.38"/><circle cx="441.9" cy="305.4" r="1.38"/><circle cx="444.6" cy="305.9" r="1.38"/><circle cx="264.3" cy="194.2" r="1.38"/><circle cx="268.7" cy="195.3" r="1.38"/><circle cx="268.3" cy="198.7" r="1.38"/><circle cx="263.6" cy="199.9" r="1.38"/><circle cx="267.1" cy="203.4" r="1.38"/><circle cx="269.3" cy="205.8" r="1.38"/><circle cx="274.8" cy="206.4" r="1.38"/><circle cx="274.8" cy="210.5" r="1.38"/><circle cx="282.6" cy="209.5" r="1.38"/><circle cx="284.4" cy="210.5" r="1.38"/></g>
<line x1="264" y1="227.2" x2="444.7" y2="308.7" stroke="#526a93" stroke-width="1.0" stroke-opacity="0.8"/>
<g stroke="#c0c0c0" stroke-width="0.85"><line x1="264" y1="340.6" x2="264" y2="344.5"/><line x1="300.1" y1="340.6" x2="300.1" y2="344.5"/><line x1="336.2" y1="340.6" x2="336.2" y2="344.5"/><line x1="372.4" y1="340.6" x2="372.4" y2="344.5"/><line x1="408.5" y1="340.6" x2="408.5" y2="344.5"/><line x1="444.6" y1="340.6" x2="444.6" y2="344.5"/><line x1="256.6" y1="337.2" x2="260.5" y2="337.2"/><line x1="256.6" y1="304.7" x2="260.5" y2="304.7"/><line x1="256.6" y1="272.2" x2="260.5" y2="272.2"/><line x1="256.6" y1="239.8" x2="260.5" y2="239.8"/><line x1="256.6" y1="207.3" x2="260.5" y2="207.3"/></g>
<g font-family="Liberation Sans, sans-serif" font-size="4.6" fill="#444"><text x="264" y="350.7" text-anchor="middle">0.0</text><text x="300.1" y="350.7" text-anchor="middle">0.2</text><text x="336.2" y="350.7" text-anchor="middle">0.4</text><text x="372.4" y="350.7" text-anchor="middle">0.6</text><text x="408.5" y="350.7" text-anchor="middle">0.8</text><text x="444.6" y="350.7" text-anchor="middle">1.0</text><text x="255.5" y="339" text-anchor="end">-25</text><text x="255.5" y="306.5" text-anchor="end">0</text><text x="255.5" y="274" text-anchor="end">25</text><text x="255.5" y="241.6" text-anchor="end">50</text><text x="255.5" y="209.1" text-anchor="end">75</text></g>
<text class="s" x="429.8" y="207.3" text-anchor="middle" font-family="Liberation Serif, serif" font-size="8.6" fill="#111" stroke="#111" stroke-width="0.1">E</text>
<text class="s" transform="translate(240.9,259.4) rotate(-90)" text-anchor="middle" font-family="Liberation Serif, serif" font-size="8.4" fill="#111" stroke="#111" stroke-width="0.1">Heart V<tspan font-size="5.9" dy="1.7">30</tspan><tspan dy="-1.7"> [%]</tspan></text>
<text class="s" x="354.9" y="363.4" text-anchor="middle" font-family="Liberation Serif, serif" font-size="8.2" fill="#111" stroke="#111" stroke-width="0.1">HeartCropPTV<tspan font-size="6" dy="1.7">V</tspan><tspan dy="-1.7" dx="-0.5"> / Heart</tspan><tspan font-size="6" dy="1.7">V</tspan></text>
</g>
<g>
<rect x="492.8" y="191.4" width="191" height="150.8" fill="#fff" stroke="#d8d8d8" stroke-width="1.25"/>
<polygon points="496.3,212.2 500.9,215 505.5,217.8 510.1,220.6 514.6,223.4 519.2,226.2 523.8,229 528.4,231.8 533,234.5 537.6,237.3 542.1,240 546.7,242.7 551.3,245.4 555.9,248.1 560.5,250.8 565.1,253.4 569.7,256.1 574.2,258.8 578.8,261.5 583.4,264.2 588,266.9 592.6,269.5 597.2,272.2 601.8,274.9 606.3,277.6 610.9,280.3 615.5,282.9 620.1,285.6 624.7,288.3 629.3,291 633.9,293.6 638.4,296.3 643,299 647.6,301.6 652.2,304.3 656.8,307 661.4,309.6 665.9,312.3 670.5,315 675.1,317.6 679.7,320.3 679.7,323.5 675.1,320.8 670.5,318 665.9,315.3 661.4,312.6 656.8,309.9 652.2,307.1 647.6,304.4 643,301.7 638.4,299 633.9,296.2 629.3,293.5 624.7,290.8 620.1,288.1 615.5,285.3 610.9,282.6 606.3,279.9 601.8,277.2 597.2,274.5 592.6,271.7 588,269 583.4,266.3 578.8,263.6 574.2,260.9 569.7,258.2 565.1,255.5 560.5,252.8 555.9,250.1 551.3,247.4 546.7,244.7 542.1,242 537.6,239.3 533,236.6 528.4,234 523.8,231.4 519.2,228.7 514.6,226.1 510.1,223.5 505.5,221 500.9,218.4 496.3,215.8" fill="#a6c2e3" fill-opacity="0.9"/>
<line x1="496.3" y1="197.8" x2="679.7" y2="305.7" stroke="#8a95dc" stroke-width="0.9" stroke-dasharray="1.7 1.8"/>
<line x1="496.3" y1="230.2" x2="679.7" y2="338.1" stroke="#8a95dc" stroke-width="0.9" stroke-dasharray="1.7 1.8"/>
<g fill="none" stroke="#1f3f9f" stroke-width="0.85" stroke-opacity="0.92"><circle cx="496.9" cy="211.9" r="1.38"/><circle cx="635.3" cy="301.7" r="1.38"/><circle cx="549.3" cy="259.5" r="1.38"/><circle cx="557.1" cy="249.4" r="1.38"/><circle cx="509.1" cy="219.8" r="1.38"/><circle cx="670.9" cy="319.9" r="1.38"/><circle cx="609" cy="280.7" r="1.38"/><circle cx="525.8" cy="237.2" r="1.38"/><circle cx="580.1" cy="274.9" r="1.38"/><circle cx="520" cy="232" r="1.38"/><circle cx="550.1" cy="253.5" r="1.38"/><circle cx="538.2" cy="221.9" r="1.38"/><circle cx="550.6" cy="253.5" r="1.38"/><circle cx="598.8" cy="273.3" r="1.38"/><circle cx="508.5" cy="214.5" r="1.38"/><circle cx="657.7" cy="308.4" r="1.38"/><circle cx="634.5" cy="289.6" r="1.38"/><circle cx="562.5" cy="244.5" r="1.38"/><circle cx="512.4" cy="208.8" r="1.38"/><circle cx="501.8" cy="210.6" r="1.38"/><circle cx="508" cy="211.1" r="1.38"/><circle cx="538.7" cy="233.2" r="1.38"/><circle cx="603.8" cy="282.4" r="1.38"/><circle cx="506.1" cy="218.2" r="1.38"/><circle cx="517.9" cy="217.4" r="1.38"/><circle cx="559.7" cy="254.6" r="1.38"/><circle cx="652.7" cy="309.9" r="1.38"/><circle cx="523.8" cy="230.4" r="1.38"/><circle cx="585.4" cy="266.5" r="1.38"/><circle cx="596.5" cy="272.2" r="1.38"/><circle cx="555.3" cy="241.4" r="1.38"/><circle cx="594.7" cy="279" r="1.38"/><circle cx="521.8" cy="232.3" r="1.38"/><circle cx="590.2" cy="268.5" r="1.38"/><circle cx="517.4" cy="225.9" r="1.38"/><circle cx="528.9" cy="232" r="1.38"/><circle cx="523.2" cy="240.5" r="1.38"/><circle cx="508.9" cy="219.1" r="1.38"/><circle cx="549.9" cy="233" r="1.38"/><circle cx="586.5" cy="267.9" r="1.38"/><circle cx="526.6" cy="238.1" r="1.38"/><circle cx="623.6" cy="292.4" r="1.38"/><circle cx="565.3" cy="251.5" r="1.38"/><circle cx="514.9" cy="212.9" r="1.38"/><circle cx="500.8" cy="229.4" r="1.38"/><circle cx="499.7" cy="206.5" r="1.38"/><circle cx="556.4" cy="250" r="1.38"/><circle cx="668.4" cy="314.6" r="1.38"/><circle cx="544.2" cy="237.1" r="1.38"/><circle cx="666" cy="312.2" r="1.38"/><circle cx="516.1" cy="217.1" r="1.38"/><circle cx="522.6" cy="222.4" r="1.38"/><circle cx="627.5" cy="288.1" r="1.38"/><circle cx="500.9" cy="213.1" r="1.38"/><circle cx="511.7" cy="240" r="1.38"/><circle cx="583" cy="257.2" r="1.38"/><circle cx="589.2" cy="276.1" r="1.38"/><circle cx="607.7" cy="279.4" r="1.38"/><circle cx="612.1" cy="279.1" r="1.38"/><circle cx="533.2" cy="224.6" r="1.38"/><circle cx="612.1" cy="281.1" r="1.38"/><circle cx="564.9" cy="246" r="1.38"/><circle cx="539.3" cy="240.4" r="1.38"/><circle cx="545.8" cy="244.8" r="1.38"/><circle cx="537.6" cy="228.7" r="1.38"/><circle cx="502.9" cy="223.4" r="1.38"/><circle cx="566.9" cy="253.5" r="1.38"/><circle cx="572.8" cy="258.6" r="1.38"/><circle cx="517.5" cy="227.9" r="1.38"/><circle cx="547.5" cy="240.8" r="1.38"/><circle cx="558.3" cy="257.5" r="1.38"/><circle cx="628.1" cy="299.7" r="1.38"/><circle cx="618" cy="286.4" r="1.38"/><circle cx="531.2" cy="241.1" r="1.38"/><circle cx="573.6" cy="273.2" r="1.38"/><circle cx="520.2" cy="233.1" r="1.38"/><circle cx="537" cy="236.5" r="1.38"/><circle cx="544.3" cy="251.2" r="1.38"/><circle cx="506.1" cy="219" r="1.38"/><circle cx="564.7" cy="253.1" r="1.38"/><circle cx="526.9" cy="221.8" r="1.38"/><circle cx="546.9" cy="245.1" r="1.38"/><circle cx="550.5" cy="239.9" r="1.38"/><circle cx="519.6" cy="229.7" r="1.38"/><circle cx="535.7" cy="222" r="1.38"/><circle cx="507.3" cy="209.9" r="1.38"/><circle cx="518.2" cy="237.5" r="1.38"/><circle cx="519.6" cy="240.3" r="1.38"/><circle cx="509.3" cy="224.2" r="1.38"/><circle cx="531.7" cy="236.7" r="1.38"/><circle cx="607" cy="264.3" r="1.38"/><circle cx="577.9" cy="265.1" r="1.38"/><circle cx="526.4" cy="226.3" r="1.38"/><circle cx="541.3" cy="224.1" r="1.38"/><circle cx="507.4" cy="210.5" r="1.38"/><circle cx="513.6" cy="215.7" r="1.38"/><circle cx="546.4" cy="247.6" r="1.38"/><circle cx="539.3" cy="240" r="1.38"/><circle cx="501.6" cy="231.9" r="1.38"/><circle cx="639.2" cy="304.5" r="1.38"/><circle cx="536.5" cy="237.7" r="1.38"/><circle cx="501.5" cy="218.5" r="1.38"/><circle cx="520.7" cy="219" r="1.38"/><circle cx="656.2" cy="311.1" r="1.38"/><circle cx="596.6" cy="270.4" r="1.38"/><circle cx="515.3" cy="226.2" r="1.38"/><circle cx="601.8" cy="278.2" r="1.38"/><circle cx="531.7" cy="235.1" r="1.38"/><circle cx="635.1" cy="293.6" r="1.38"/><circle cx="518.2" cy="232.3" r="1.38"/><circle cx="535.6" cy="242.7" r="1.38"/><circle cx="613.4" cy="267.8" r="1.38"/><circle cx="578.9" cy="258.1" r="1.38"/><circle cx="527.8" cy="231.2" r="1.38"/><circle cx="633.5" cy="291.8" r="1.38"/><circle cx="616.6" cy="285.7" r="1.38"/><circle cx="563.9" cy="260" r="1.38"/><circle cx="556.3" cy="250.3" r="1.38"/><circle cx="527.1" cy="231" r="1.38"/><circle cx="549.6" cy="253" r="1.38"/><circle cx="583.2" cy="268" r="1.38"/><circle cx="526.2" cy="234" r="1.38"/><circle cx="508" cy="236.4" r="1.38"/><circle cx="513.7" cy="232.6" r="1.38"/><circle cx="527" cy="225.2" r="1.38"/><circle cx="511.4" cy="233.2" r="1.38"/><circle cx="645.2" cy="298.8" r="1.38"/><circle cx="604.1" cy="279.3" r="1.38"/><circle cx="553.6" cy="234.6" r="1.38"/><circle cx="634.9" cy="300.7" r="1.38"/><circle cx="534.6" cy="224.1" r="1.38"/><circle cx="571.1" cy="261.5" r="1.38"/><circle cx="542.5" cy="256.8" r="1.38"/><circle cx="540.8" cy="244.8" r="1.38"/><circle cx="575.3" cy="260.7" r="1.38"/><circle cx="515.8" cy="218" r="1.38"/><circle cx="573.4" cy="257" r="1.38"/><circle cx="504.5" cy="223.1" r="1.38"/><circle cx="497.9" cy="195.5" r="1.38"/><circle cx="508.6" cy="212.7" r="1.38"/><circle cx="515.1" cy="233.6" r="1.38"/><circle cx="498.7" cy="209.3" r="1.38"/><circle cx="500.7" cy="222.1" r="1.38"/><circle cx="527.3" cy="236.1" r="1.38"/><circle cx="517.8" cy="219.2" r="1.38"/><circle cx="548.7" cy="242.9" r="1.38"/><circle cx="548.7" cy="254.3" r="1.38"/><circle cx="566" cy="251.7" r="1.38"/><circle cx="547.2" cy="242.8" r="1.38"/><circle cx="518.6" cy="230.2" r="1.38"/><circle cx="523.6" cy="225.1" r="1.38"/><circle cx="521.2" cy="225.7" r="1.38"/><circle cx="519.6" cy="230.6" r="1.38"/><circle cx="602.8" cy="274.7" r="1.38"/><circle cx="517.4" cy="225.6" r="1.38"/><circle cx="499.4" cy="217.9" r="1.38"/><circle cx="545.3" cy="255.7" r="1.38"/><circle cx="517.8" cy="225.8" r="1.38"/><circle cx="528.6" cy="228.3" r="1.38"/><circle cx="589.3" cy="290" r="1.38"/><circle cx="543.6" cy="248.9" r="1.38"/><circle cx="589.3" cy="254.8" r="1.38"/><circle cx="623.9" cy="286.4" r="1.38"/><circle cx="532.4" cy="223.2" r="1.38"/><circle cx="528.9" cy="238.9" r="1.38"/><circle cx="511.9" cy="214.7" r="1.38"/><circle cx="504.7" cy="213.5" r="1.38"/><circle cx="560.8" cy="264.4" r="1.38"/><circle cx="512.9" cy="219.2" r="1.38"/><circle cx="512.3" cy="223.7" r="1.38"/><circle cx="568.6" cy="259.4" r="1.38"/><circle cx="529" cy="241" r="1.38"/><circle cx="654.1" cy="311.1" r="1.38"/><circle cx="526.6" cy="243.2" r="1.38"/><circle cx="578.3" cy="257.7" r="1.38"/><circle cx="551.2" cy="249.9" r="1.38"/><circle cx="522.5" cy="216.8" r="1.38"/><circle cx="529.3" cy="233.6" r="1.38"/><circle cx="522.3" cy="227.9" r="1.38"/><circle cx="582.4" cy="277.7" r="1.38"/><circle cx="587.3" cy="269.9" r="1.38"/><circle cx="506.8" cy="215.4" r="1.38"/><circle cx="517.3" cy="223.6" r="1.38"/><circle cx="548.3" cy="237.8" r="1.38"/><circle cx="532.4" cy="231.4" r="1.38"/><circle cx="508.8" cy="216" r="1.38"/><circle cx="508" cy="220.5" r="1.38"/><circle cx="516" cy="221" r="1.38"/><circle cx="574.7" cy="260" r="1.38"/><circle cx="553.8" cy="255.2" r="1.38"/><circle cx="564.2" cy="245.2" r="1.38"/><circle cx="603.8" cy="271.9" r="1.38"/><circle cx="508.8" cy="211.5" r="1.38"/><circle cx="523.5" cy="244.7" r="1.38"/><circle cx="523.8" cy="242.2" r="1.38"/><circle cx="540.5" cy="243.4" r="1.38"/><circle cx="533.5" cy="236" r="1.38"/><circle cx="513.4" cy="216.7" r="1.38"/><circle cx="545.6" cy="250.1" r="1.38"/><circle cx="574.9" cy="260.7" r="1.38"/><circle cx="535.2" cy="239.7" r="1.38"/><circle cx="570.2" cy="257.9" r="1.38"/><circle cx="565.4" cy="233.2" r="1.38"/><circle cx="582.7" cy="252.3" r="1.38"/><circle cx="556.3" cy="245.2" r="1.38"/><circle cx="499.9" cy="217.8" r="1.38"/><circle cx="614.5" cy="277.3" r="1.38"/><circle cx="573.7" cy="260.6" r="1.38"/><circle cx="526.1" cy="228.7" r="1.38"/><circle cx="570.8" cy="249.4" r="1.38"/><circle cx="574.8" cy="264.6" r="1.38"/><circle cx="526.5" cy="223.1" r="1.38"/><circle cx="507.1" cy="208.7" r="1.38"/><circle cx="518.4" cy="239.2" r="1.38"/><circle cx="561.5" cy="262.9" r="1.38"/><circle cx="533.7" cy="237.8" r="1.38"/><circle cx="510.3" cy="230.7" r="1.38"/><circle cx="556.8" cy="244.6" r="1.38"/><circle cx="509.9" cy="220.2" r="1.38"/><circle cx="552.1" cy="249.7" r="1.38"/><circle cx="519.8" cy="230.8" r="1.38"/><circle cx="562.9" cy="257.6" r="1.38"/><circle cx="519.4" cy="218.1" r="1.38"/><circle cx="553" cy="254.7" r="1.38"/><circle cx="588.1" cy="260.1" r="1.38"/><circle cx="576.8" cy="261.2" r="1.38"/><circle cx="507.8" cy="240.4" r="1.38"/><circle cx="522.9" cy="237.4" r="1.38"/><circle cx="524.5" cy="227.3" r="1.38"/><circle cx="518" cy="229.8" r="1.38"/><circle cx="522.9" cy="224.7" r="1.38"/><circle cx="578.2" cy="257.6" r="1.38"/><circle cx="514.3" cy="219" r="1.38"/><circle cx="566.3" cy="253.1" r="1.38"/><circle cx="509.3" cy="222.2" r="1.38"/><circle cx="602.7" cy="281.3" r="1.38"/><circle cx="567.2" cy="272.4" r="1.38"/><circle cx="638.2" cy="300.2" r="1.38"/><circle cx="574.6" cy="262.8" r="1.38"/><circle cx="616.8" cy="278.7" r="1.38"/><circle cx="513" cy="234" r="1.38"/><circle cx="538.9" cy="240.8" r="1.38"/><circle cx="563" cy="265.7" r="1.38"/><circle cx="513" cy="225.3" r="1.38"/><circle cx="597.5" cy="285.9" r="1.38"/><circle cx="545.5" cy="239.6" r="1.38"/><circle cx="520.5" cy="226.3" r="1.38"/><circle cx="667.8" cy="314.6" r="1.38"/><circle cx="529.8" cy="232.5" r="1.38"/><circle cx="592.8" cy="273.7" r="1.38"/><circle cx="505.2" cy="279.2" r="1.38"/><circle cx="619.5" cy="324.3" r="1.38"/><circle cx="679.3" cy="323.9" r="1.38"/><circle cx="679.3" cy="322.8" r="1.38"/><circle cx="679.3" cy="325.1" r="1.38"/><circle cx="679.3" cy="325.3" r="1.38"/><circle cx="679.3" cy="324" r="1.38"/><circle cx="679.3" cy="324.1" r="1.38"/><circle cx="679.3" cy="325.1" r="1.38"/><circle cx="679.3" cy="326.5" r="1.38"/><circle cx="679.3" cy="324.7" r="1.38"/><circle cx="679.3" cy="322" r="1.38"/><circle cx="679.3" cy="322" r="1.38"/><circle cx="679.3" cy="326.6" r="1.38"/><circle cx="679.3" cy="325.7" r="1.38"/><circle cx="679.3" cy="322.4" r="1.38"/></g>
<line x1="496.3" y1="214" x2="679.7" y2="321.9" stroke="#526a93" stroke-width="1.0" stroke-opacity="0.8"/>
<g stroke="#c0c0c0" stroke-width="0.85"><line x1="496.6" y1="342.2" x2="496.6" y2="346.1"/><line x1="532.9" y1="342.2" x2="532.9" y2="346.1"/><line x1="569.3" y1="342.2" x2="569.3" y2="346.1"/><line x1="606" y1="342.2" x2="606" y2="346.1"/><line x1="642.6" y1="342.2" x2="642.6" y2="346.1"/><line x1="679.3" y1="342.2" x2="679.3" y2="346.1"/><line x1="488.9" y1="326.8" x2="492.8" y2="326.8"/><line x1="488.9" y1="294.3" x2="492.8" y2="294.3"/><line x1="488.9" y1="261.7" x2="492.8" y2="261.7"/><line x1="488.9" y1="229.2" x2="492.8" y2="229.2"/><line x1="488.9" y1="196.6" x2="492.8" y2="196.6"/></g>
<g font-family="Liberation Sans, sans-serif" font-size="4.6" fill="#444"><text x="496.6" y="353.3" text-anchor="middle">0.0</text><text x="532.9" y="353.3" text-anchor="middle">0.2</text><text x="569.3" y="353.3" text-anchor="middle">0.4</text><text x="606" y="353.3" text-anchor="middle">0.6</text><text x="642.6" y="353.3" text-anchor="middle">0.8</text><text x="679.3" y="353.3" text-anchor="middle">1.0</text><text x="487.8" y="328.6" text-anchor="end">0</text><text x="487.8" y="296.1" text-anchor="end">10</text><text x="487.8" y="263.5" text-anchor="end">20</text><text x="487.8" y="231" text-anchor="end">30</text><text x="487.8" y="198.4" text-anchor="end">40</text></g>
<text class="s" x="668.3" y="207.7" text-anchor="middle" font-family="Liberation Serif, serif" font-size="8.6" fill="#111" stroke="#111" stroke-width="0.1">F</text>
<text class="s" transform="translate(475,267.3) rotate(-90)" text-anchor="middle" font-family="Liberation Serif, serif" font-size="8.4" fill="#111" stroke="#111" stroke-width="0.1">Heart D<tspan font-size="5.9" dy="1.7">mean</tspan><tspan dy="-1.7"> [Gy]</tspan></text>
<text class="s" x="592" y="365.6" text-anchor="middle" font-family="Liberation Serif, serif" font-size="8.2" fill="#111" stroke="#111" stroke-width="0.1">HeartCropPTV<tspan font-size="6" dy="1.7">V</tspan><tspan dy="-1.7" dx="-0.5"> / Heart</tspan><tspan font-size="6" dy="1.7">V</tspan></text>
</g>
<g class="s" font-family="Liberation Serif, serif" font-size="8.3" fill="#111" stroke="#111" stroke-width="0.1">
<line x1="227.7" y1="387" x2="256.1" y2="387" stroke="#5878a8" stroke-width="1.9"/>
<text x="258.9" y="389.6">Fit</text>
<rect x="272.8" y="383.3" width="4" height="8.2" fill="#8e9fd8" stroke="#7d90cf" stroke-width="0.5"/>
<text x="278.9" y="389.6">95% Confidence Limits</text>
<line x1="361.9" y1="387" x2="372.4" y2="387" stroke="#97a3e2" stroke-width="0.9" stroke-dasharray="2.1 0.6"/>
<text x="375.2" y="389.6">95% Prediction Limits</text>
</g>
</svg>
</body></html>
